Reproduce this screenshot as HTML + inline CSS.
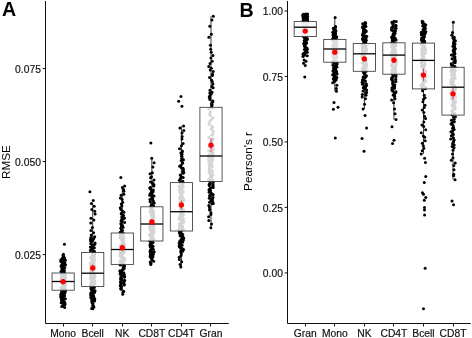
<!DOCTYPE html>
<html><head><meta charset="utf-8"><style>
html,body{margin:0;padding:0;background:#fff;}
svg{display:block;filter:blur(0.3px);}
.t{font-family:"Liberation Sans",sans-serif;font-size:10.3px;fill:#111;stroke:#111;stroke-width:0.18px;}
.at{font-family:"Liberation Sans",sans-serif;font-size:11.7px;fill:#000;}
.lab{font-family:"Liberation Sans",sans-serif;font-size:19.6px;font-weight:bold;fill:#000;}
.pts line{stroke:#222;stroke-width:0.9;}
.bx{fill:#fff;stroke:#3a3a3a;stroke-width:0.85;}
.md{stroke:#000;stroke-width:1.3;}
.eb{stroke:#d11;stroke-width:0.75;}
.mn{fill:#f00;}
</style></head><body>
<svg width="472" height="338" viewBox="0 0 472 338">
<rect width="472" height="338" fill="#fff"/>
<g fill="#000" class="pts">
<line x1="63.14" y1="254.29" x2="63.14" y2="273"/>
<line x1="63.14" y1="290.2" x2="63.14" y2="307.57"/>
<circle cx="64" cy="288.31" r="1.5"/>
<circle cx="64.77" cy="293.58" r="1.5"/>
<circle cx="64.26" cy="272.9" r="1.5"/>
<circle cx="64.54" cy="302.18" r="1.5"/>
<circle cx="63.63" cy="287.11" r="1.5"/>
<circle cx="65.06" cy="283.74" r="1.5"/>
<circle cx="64.12" cy="278.63" r="1.5"/>
<circle cx="62.92" cy="276.15" r="1.5"/>
<circle cx="62.97" cy="305.78" r="1.5"/>
<circle cx="62.89" cy="272.56" r="1.5"/>
<circle cx="65.34" cy="298.87" r="1.5"/>
<circle cx="64.81" cy="267.62" r="1.5"/>
<circle cx="60.81" cy="260.92" r="1.5"/>
<circle cx="64.37" cy="301.82" r="1.5"/>
<circle cx="61.09" cy="275.46" r="1.5"/>
<circle cx="62.97" cy="262.26" r="1.5"/>
<circle cx="65.11" cy="282.23" r="1.5"/>
<circle cx="61.98" cy="274.99" r="1.5"/>
<circle cx="60.94" cy="295.03" r="1.5"/>
<circle cx="63.63" cy="275.91" r="1.5"/>
<circle cx="64.6" cy="273.98" r="1.5"/>
<circle cx="60.86" cy="296.62" r="1.5"/>
<circle cx="63.66" cy="285.57" r="1.5"/>
<circle cx="61.37" cy="281.17" r="1.5"/>
<circle cx="63.82" cy="274.64" r="1.5"/>
<circle cx="65.3" cy="291.55" r="1.5"/>
<circle cx="64.67" cy="307.57" r="1.5"/>
<circle cx="62.06" cy="292.33" r="1.5"/>
<circle cx="63.89" cy="298.39" r="1.5"/>
<circle cx="61.6" cy="300.56" r="1.5"/>
<circle cx="62.6" cy="267.13" r="1.5"/>
<circle cx="62.32" cy="275.31" r="1.5"/>
<circle cx="64.12" cy="283.97" r="1.5"/>
<circle cx="64.25" cy="283.01" r="1.5"/>
<circle cx="63.55" cy="281.88" r="1.5"/>
<circle cx="62.4" cy="300.86" r="1.5"/>
<circle cx="65.49" cy="274.75" r="1.5"/>
<circle cx="63.56" cy="256.18" r="1.5"/>
<circle cx="64.99" cy="274.1" r="1.5"/>
<circle cx="65.3" cy="277.71" r="1.5"/>
<circle cx="60.97" cy="297.38" r="1.5"/>
<circle cx="62.98" cy="255.52" r="1.5"/>
<circle cx="62.58" cy="285.35" r="1.5"/>
<circle cx="63.64" cy="278.05" r="1.5"/>
<circle cx="61.9" cy="261.85" r="1.5"/>
<circle cx="64.63" cy="259.06" r="1.5"/>
<circle cx="61.84" cy="265.58" r="1.5"/>
<circle cx="61.03" cy="271.49" r="1.5"/>
<circle cx="61.48" cy="276.8" r="1.5"/>
<circle cx="62.65" cy="269.01" r="1.5"/>
<circle cx="63.47" cy="304.32" r="1.5"/>
<circle cx="65.37" cy="260.27" r="1.5"/>
<circle cx="64.44" cy="244.2" r="1.5"/>
<circle cx="62.34" cy="270.11" r="1.5"/>
<circle cx="61.7" cy="299.26" r="1.5"/>
<circle cx="63.11" cy="293.24" r="1.5"/>
<circle cx="60.89" cy="294.36" r="1.5"/>
<circle cx="62.92" cy="303.39" r="1.5"/>
<circle cx="62.26" cy="290.22" r="1.5"/>
<circle cx="62.04" cy="269.87" r="1.5"/>
<circle cx="64.77" cy="286.71" r="1.5"/>
<circle cx="61.24" cy="278.2" r="1.5"/>
<circle cx="61.39" cy="296.06" r="1.5"/>
<circle cx="63.53" cy="286.53" r="1.5"/>
<circle cx="63.91" cy="288.87" r="1.5"/>
<circle cx="61.73" cy="306.55" r="1.5"/>
<circle cx="63.82" cy="263.34" r="1.5"/>
<circle cx="63.06" cy="276.47" r="1.5"/>
<circle cx="62.61" cy="286.29" r="1.5"/>
<circle cx="62.2" cy="258.6" r="1.5"/>
<circle cx="60.91" cy="282.02" r="1.5"/>
<circle cx="63.2" cy="256.9" r="1.5"/>
<circle cx="65.02" cy="289.03" r="1.5"/>
<circle cx="63.43" cy="254.29" r="1.5"/>
<circle cx="64.2" cy="279.3" r="1.5"/>
<circle cx="64.79" cy="262.85" r="1.5"/>
<circle cx="63.48" cy="295.41" r="1.5"/>
<circle cx="64.9" cy="276.64" r="1.5"/>
<circle cx="61.75" cy="267.78" r="1.5"/>
<circle cx="62.81" cy="289.46" r="1.5"/>
<circle cx="65.02" cy="281.36" r="1.5"/>
<circle cx="61.59" cy="272.18" r="1.5"/>
<circle cx="65.16" cy="287.9" r="1.5"/>
<circle cx="62.03" cy="280.4" r="1.5"/>
<circle cx="65.52" cy="264.87" r="1.5"/>
<circle cx="62.76" cy="273.39" r="1.5"/>
<circle cx="63" cy="268.53" r="1.5"/>
<circle cx="65.36" cy="282.58" r="1.5"/>
<circle cx="63.54" cy="275.65" r="1.5"/>
<circle cx="65.13" cy="284.22" r="1.5"/>
<circle cx="62.04" cy="273.63" r="1.5"/>
<circle cx="61.92" cy="271.04" r="1.5"/>
<circle cx="61.56" cy="288.53" r="1.5"/>
<circle cx="61.84" cy="279.5" r="1.5"/>
<circle cx="64.82" cy="291.16" r="1.5"/>
<circle cx="65.11" cy="303.97" r="1.5"/>
<circle cx="65.54" cy="283.21" r="1.5"/>
<circle cx="62.91" cy="294.21" r="1.5"/>
<circle cx="64.97" cy="286.1" r="1.5"/>
<circle cx="63.83" cy="273.17" r="1.5"/>
<circle cx="62.51" cy="280.88" r="1.5"/>
<circle cx="64.21" cy="303.2" r="1.5"/>
<circle cx="61.88" cy="297.16" r="1.5"/>
<circle cx="63.76" cy="269.18" r="1.5"/>
<circle cx="64.34" cy="286.88" r="1.5"/>
<circle cx="61.03" cy="261.5" r="1.5"/>
<circle cx="62.59" cy="290.03" r="1.5"/>
<circle cx="63.9" cy="281.69" r="1.5"/>
<circle cx="62.15" cy="279.14" r="1.5"/>
<circle cx="65.26" cy="277.57" r="1.5"/>
<circle cx="64.54" cy="284.85" r="1.5"/>
<circle cx="64.03" cy="284.38" r="1.5"/>
<circle cx="61.6" cy="299.63" r="1.5"/>
<circle cx="61.55" cy="291.85" r="1.5"/>
<circle cx="63.81" cy="285.72" r="1.5"/>
<circle cx="64.83" cy="279.81" r="1.5"/>
<circle cx="64.14" cy="265.28" r="1.5"/>
<circle cx="65.36" cy="278.37" r="1.5"/>
<circle cx="62.08" cy="264.24" r="1.5"/>
<circle cx="62.73" cy="292.69" r="1.5"/>
<circle cx="63.13" cy="287.68" r="1.5"/>
<circle cx="63.01" cy="299.92" r="1.5"/>
<circle cx="62.63" cy="274.31" r="1.5"/>
<circle cx="61.72" cy="280.32" r="1.5"/>
<circle cx="64.57" cy="304.9" r="1.5"/>
<circle cx="61.16" cy="302.76" r="1.5"/>
<circle cx="60.8" cy="288.07" r="1.5"/>
<circle cx="65.13" cy="289.79" r="1.5"/>
<circle cx="63.92" cy="263.79" r="1.5"/>
<circle cx="61.65" cy="277.27" r="1.5"/>
<circle cx="60.94" cy="259.71" r="1.5"/>
<circle cx="64.54" cy="295.72" r="1.5"/>
<circle cx="61.03" cy="280.7" r="1.5"/>
<circle cx="63.94" cy="289.24" r="1.5"/>
<circle cx="64.92" cy="284.7" r="1.5"/>
<circle cx="63.13" cy="290.52" r="1.5"/>
<circle cx="63.7" cy="260.62" r="1.5"/>
<circle cx="61.08" cy="266.03" r="1.5"/>
<circle cx="62.89" cy="297.96" r="1.5"/>
<circle cx="63.49" cy="285.16" r="1.5"/>
<circle cx="64.55" cy="258.12" r="1.5"/>
<circle cx="62.09" cy="280.04" r="1.5"/>
<circle cx="63.36" cy="283.4" r="1.5"/>
<circle cx="63.24" cy="301.41" r="1.5"/>
<circle cx="63.8" cy="282.7" r="1.5"/>
<circle cx="62.66" cy="266.64" r="1.5"/>
<circle cx="61.85" cy="287.41" r="1.5"/>
<circle cx="64.7" cy="278.85" r="1.5"/>
<circle cx="64.67" cy="277.14" r="1.5"/>
<circle cx="64.38" cy="270.85" r="1.5"/>
<line x1="92.71" y1="203.48" x2="92.71" y2="252.5"/>
<line x1="92.71" y1="286.5" x2="92.71" y2="308.84"/>
<circle cx="91" cy="296.75" r="1.5"/>
<circle cx="93.56" cy="285.69" r="1.5"/>
<circle cx="94.36" cy="247.78" r="1.5"/>
<circle cx="92.41" cy="299.57" r="1.5"/>
<circle cx="90.92" cy="230.41" r="1.5"/>
<circle cx="93.35" cy="282.98" r="1.5"/>
<circle cx="90.8" cy="285.11" r="1.5"/>
<circle cx="92.38" cy="246.32" r="1.5"/>
<circle cx="90.89" cy="287.9" r="1.5"/>
<circle cx="92.33" cy="280.14" r="1.5"/>
<circle cx="92.24" cy="264" r="1.5"/>
<circle cx="94.53" cy="284.12" r="1.5"/>
<circle cx="92.06" cy="301.95" r="1.5"/>
<circle cx="91.62" cy="282.21" r="1.5"/>
<circle cx="93.02" cy="282.64" r="1.5"/>
<circle cx="92.6" cy="276.2" r="1.5"/>
<circle cx="90.77" cy="243.77" r="1.5"/>
<circle cx="90.78" cy="223.03" r="1.5"/>
<circle cx="93.52" cy="279.39" r="1.5"/>
<circle cx="94.16" cy="251.31" r="1.5"/>
<circle cx="91.55" cy="289.57" r="1.5"/>
<circle cx="94.74" cy="211.25" r="1.5"/>
<circle cx="90.68" cy="294.87" r="1.5"/>
<circle cx="90.56" cy="278.62" r="1.5"/>
<circle cx="90.42" cy="263.17" r="1.5"/>
<circle cx="93.96" cy="268.55" r="1.5"/>
<circle cx="95.06" cy="290.69" r="1.5"/>
<circle cx="93.18" cy="271.83" r="1.5"/>
<circle cx="93.64" cy="296.4" r="1.5"/>
<circle cx="90.6" cy="284.26" r="1.5"/>
<circle cx="90.39" cy="250.44" r="1.5"/>
<circle cx="93.04" cy="298.46" r="1.5"/>
<circle cx="92.79" cy="308.84" r="1.5"/>
<circle cx="94.81" cy="276.93" r="1.5"/>
<circle cx="93.02" cy="303.83" r="1.5"/>
<circle cx="92.02" cy="258.38" r="1.5"/>
<circle cx="91.22" cy="283.37" r="1.5"/>
<circle cx="93" cy="272.98" r="1.5"/>
<circle cx="93.95" cy="306.9" r="1.5"/>
<circle cx="93.31" cy="288.68" r="1.5"/>
<circle cx="93.98" cy="244.92" r="1.5"/>
<circle cx="94.34" cy="287.62" r="1.5"/>
<circle cx="90.52" cy="274.02" r="1.5"/>
<circle cx="90.38" cy="247.05" r="1.5"/>
<circle cx="94.88" cy="280.95" r="1.5"/>
<circle cx="91.1" cy="249.6" r="1.5"/>
<circle cx="93.93" cy="274.36" r="1.5"/>
<circle cx="92.75" cy="266.32" r="1.5"/>
<circle cx="90.65" cy="257.55" r="1.5"/>
<circle cx="93.34" cy="286.16" r="1.5"/>
<circle cx="93.95" cy="238.07" r="1.5"/>
<circle cx="92.61" cy="286.47" r="1.5"/>
<circle cx="94.69" cy="236.78" r="1.5"/>
<circle cx="94.51" cy="292.55" r="1.5"/>
<circle cx="94.73" cy="291.76" r="1.5"/>
<circle cx="91.28" cy="234.95" r="1.5"/>
<circle cx="93.8" cy="297.3" r="1.5"/>
<circle cx="91.48" cy="276.69" r="1.5"/>
<circle cx="91.96" cy="286.91" r="1.5"/>
<circle cx="93.05" cy="260.84" r="1.5"/>
<circle cx="90.68" cy="268.08" r="1.5"/>
<circle cx="92.49" cy="248.22" r="1.5"/>
<circle cx="93.75" cy="273.32" r="1.5"/>
<circle cx="94.2" cy="206.2" r="1.5"/>
<circle cx="92.95" cy="291.09" r="1.5"/>
<circle cx="91.68" cy="272.32" r="1.5"/>
<circle cx="95.07" cy="243.04" r="1.5"/>
<circle cx="92.78" cy="240.84" r="1.5"/>
<circle cx="94.18" cy="253.79" r="1.5"/>
<circle cx="92.5" cy="278.37" r="1.5"/>
<circle cx="94.69" cy="254.06" r="1.5"/>
<circle cx="94.66" cy="265.65" r="1.5"/>
<circle cx="93.8" cy="219.98" r="1.5"/>
<circle cx="94.44" cy="251.91" r="1.5"/>
<circle cx="92.73" cy="253.09" r="1.5"/>
<circle cx="91.77" cy="295.65" r="1.5"/>
<circle cx="93.97" cy="262.51" r="1.5"/>
<circle cx="94.85" cy="259.57" r="1.5"/>
<circle cx="94.82" cy="299.05" r="1.5"/>
<circle cx="92.26" cy="255.38" r="1.5"/>
<circle cx="90.88" cy="297.82" r="1.5"/>
<circle cx="93.31" cy="281.96" r="1.5"/>
<circle cx="92.86" cy="280.54" r="1.5"/>
<circle cx="91.77" cy="300.04" r="1.5"/>
<circle cx="92.26" cy="249.18" r="1.5"/>
<circle cx="90.49" cy="239.94" r="1.5"/>
<circle cx="90.86" cy="278.01" r="1.5"/>
<circle cx="93.39" cy="262.08" r="1.5"/>
<circle cx="90.87" cy="237.6" r="1.5"/>
<circle cx="91.43" cy="203.48" r="1.5"/>
<circle cx="92.35" cy="284.67" r="1.5"/>
<circle cx="92.56" cy="257.96" r="1.5"/>
<circle cx="92.58" cy="269.48" r="1.5"/>
<circle cx="91.83" cy="209.5" r="1.5"/>
<circle cx="94.66" cy="275.75" r="1.5"/>
<circle cx="90.59" cy="270.76" r="1.5"/>
<circle cx="90.78" cy="265.15" r="1.5"/>
<circle cx="93.6" cy="232.68" r="1.5"/>
<circle cx="93.31" cy="259.18" r="1.5"/>
<circle cx="93.25" cy="200.49" r="1.5"/>
<circle cx="92.08" cy="290.23" r="1.5"/>
<circle cx="92.23" cy="300.38" r="1.5"/>
<circle cx="91.46" cy="281.24" r="1.5"/>
<circle cx="92.18" cy="261.34" r="1.5"/>
<circle cx="91.66" cy="308.43" r="1.5"/>
<circle cx="90.55" cy="275.21" r="1.5"/>
<circle cx="90.91" cy="279.06" r="1.5"/>
<circle cx="92.34" cy="227.39" r="1.5"/>
<circle cx="91.57" cy="279.75" r="1.5"/>
<circle cx="90.71" cy="293.06" r="1.5"/>
<circle cx="92.69" cy="270.04" r="1.5"/>
<circle cx="91.75" cy="294.32" r="1.5"/>
<circle cx="93.37" cy="267.6" r="1.5"/>
<circle cx="90.65" cy="239.29" r="1.5"/>
<circle cx="94.23" cy="277.75" r="1.5"/>
<circle cx="94.54" cy="255.97" r="1.5"/>
<circle cx="95.01" cy="283.6" r="1.5"/>
<circle cx="92.08" cy="292.16" r="1.5"/>
<circle cx="92.26" cy="257.02" r="1.5"/>
<circle cx="91.93" cy="260.29" r="1.5"/>
<circle cx="91.25" cy="264.47" r="1.5"/>
<circle cx="92.64" cy="293.76" r="1.5"/>
<circle cx="93.99" cy="256.44" r="1.5"/>
<circle cx="94.78" cy="268.88" r="1.5"/>
<circle cx="91.34" cy="289.18" r="1.5"/>
<circle cx="94.6" cy="281.44" r="1.5"/>
<circle cx="93.49" cy="295.18" r="1.5"/>
<circle cx="93.86" cy="263.58" r="1.5"/>
<circle cx="93.04" cy="267.03" r="1.5"/>
<circle cx="92.91" cy="305.29" r="1.5"/>
<circle cx="94.88" cy="244.04" r="1.5"/>
<circle cx="92.25" cy="252.55" r="1.5"/>
<circle cx="90.95" cy="218.36" r="1.5"/>
<circle cx="92.05" cy="301.39" r="1.5"/>
<circle cx="94.85" cy="275.63" r="1.5"/>
<circle cx="92.55" cy="245.54" r="1.5"/>
<circle cx="92.33" cy="271.44" r="1.5"/>
<circle cx="91.02" cy="241.53" r="1.5"/>
<circle cx="92.56" cy="277.33" r="1.5"/>
<circle cx="91.29" cy="242.04" r="1.5"/>
<circle cx="92.17" cy="302.95" r="1.5"/>
<circle cx="94.62" cy="274.77" r="1.5"/>
<circle cx="89.91" cy="191.8" r="1.5"/>
<circle cx="93.6" cy="238.75" r="1.5"/>
<circle cx="90.66" cy="285.45" r="1.5"/>
<circle cx="95.1" cy="214.01" r="1.5"/>
<circle cx="90.38" cy="273.68" r="1.5"/>
<circle cx="93.01" cy="306.35" r="1.5"/>
<circle cx="94.05" cy="254.8" r="1.5"/>
<circle cx="94.61" cy="301.12" r="1.5"/>
<line x1="122.28" y1="185.94" x2="122.28" y2="233"/>
<line x1="122.28" y1="264.4" x2="122.28" y2="294.27"/>
<circle cx="124.31" cy="277.33" r="1.5"/>
<circle cx="123.01" cy="239.99" r="1.5"/>
<circle cx="121.38" cy="283.02" r="1.5"/>
<circle cx="121.5" cy="226.33" r="1.5"/>
<circle cx="122.99" cy="236.52" r="1.5"/>
<circle cx="123.31" cy="215.25" r="1.5"/>
<circle cx="120.87" cy="223.86" r="1.5"/>
<circle cx="121.03" cy="264.01" r="1.5"/>
<circle cx="120.22" cy="262.44" r="1.5"/>
<circle cx="124.39" cy="252.22" r="1.5"/>
<circle cx="121.34" cy="262.09" r="1.5"/>
<circle cx="122.1" cy="246.6" r="1.5"/>
<circle cx="123.82" cy="237.04" r="1.5"/>
<circle cx="121.74" cy="254.37" r="1.5"/>
<circle cx="120.88" cy="209.58" r="1.5"/>
<circle cx="122.75" cy="261.68" r="1.5"/>
<circle cx="123.49" cy="258.11" r="1.5"/>
<circle cx="120.58" cy="256.5" r="1.5"/>
<circle cx="124.2" cy="261.28" r="1.5"/>
<circle cx="121.69" cy="240.36" r="1.5"/>
<circle cx="122.8" cy="239.21" r="1.5"/>
<circle cx="122.41" cy="211.11" r="1.5"/>
<circle cx="121.81" cy="233.78" r="1.5"/>
<circle cx="122.72" cy="253.24" r="1.5"/>
<circle cx="121.59" cy="273.26" r="1.5"/>
<circle cx="121.93" cy="236.21" r="1.5"/>
<circle cx="121.15" cy="255.27" r="1.5"/>
<circle cx="120.06" cy="256.1" r="1.5"/>
<circle cx="119.96" cy="237.81" r="1.5"/>
<circle cx="120.1" cy="274.04" r="1.5"/>
<circle cx="120.88" cy="177.5" r="1.5"/>
<circle cx="121.78" cy="264.35" r="1.5"/>
<circle cx="122.08" cy="221.84" r="1.5"/>
<circle cx="121.88" cy="205.72" r="1.5"/>
<circle cx="120.25" cy="251.3" r="1.5"/>
<circle cx="121.18" cy="195.25" r="1.5"/>
<circle cx="120.84" cy="228.17" r="1.5"/>
<circle cx="124.22" cy="268.55" r="1.5"/>
<circle cx="122.77" cy="249.38" r="1.5"/>
<circle cx="124.57" cy="276.27" r="1.5"/>
<circle cx="124.52" cy="218.04" r="1.5"/>
<circle cx="123.23" cy="245.78" r="1.5"/>
<circle cx="121.28" cy="224.68" r="1.5"/>
<circle cx="122.76" cy="256.98" r="1.5"/>
<circle cx="120.18" cy="271.86" r="1.5"/>
<circle cx="121.34" cy="203.91" r="1.5"/>
<circle cx="122.73" cy="234.42" r="1.5"/>
<circle cx="121.37" cy="213.28" r="1.5"/>
<circle cx="122.36" cy="243.71" r="1.5"/>
<circle cx="124.52" cy="265.97" r="1.5"/>
<circle cx="121.47" cy="231.28" r="1.5"/>
<circle cx="120.97" cy="234.63" r="1.5"/>
<circle cx="120.34" cy="232.77" r="1.5"/>
<circle cx="124.11" cy="281.39" r="1.5"/>
<circle cx="121.58" cy="278.96" r="1.5"/>
<circle cx="120.87" cy="276.73" r="1.5"/>
<circle cx="120.39" cy="282.01" r="1.5"/>
<circle cx="121.47" cy="239.45" r="1.5"/>
<circle cx="123.67" cy="240.92" r="1.5"/>
<circle cx="121.35" cy="214.06" r="1.5"/>
<circle cx="120.14" cy="260.77" r="1.5"/>
<circle cx="121.48" cy="255.68" r="1.5"/>
<circle cx="123.19" cy="257.68" r="1.5"/>
<circle cx="122.13" cy="253.99" r="1.5"/>
<circle cx="124.19" cy="250.04" r="1.5"/>
<circle cx="123.58" cy="189.4" r="1.5"/>
<circle cx="120.26" cy="285.63" r="1.5"/>
<circle cx="119.88" cy="270.79" r="1.5"/>
<circle cx="122.03" cy="262.71" r="1.5"/>
<circle cx="123.68" cy="291.18" r="1.5"/>
<circle cx="120.35" cy="198" r="1.5"/>
<circle cx="124.64" cy="222.41" r="1.5"/>
<circle cx="121.96" cy="259.21" r="1.5"/>
<circle cx="123.75" cy="267.11" r="1.5"/>
<circle cx="123.22" cy="263.48" r="1.5"/>
<circle cx="120.53" cy="284.39" r="1.5"/>
<circle cx="122.47" cy="225.45" r="1.5"/>
<circle cx="124.22" cy="247.41" r="1.5"/>
<circle cx="122.27" cy="275.28" r="1.5"/>
<circle cx="120.83" cy="288.36" r="1.5"/>
<circle cx="122.4" cy="260.04" r="1.5"/>
<circle cx="121.46" cy="229.42" r="1.5"/>
<circle cx="123.8" cy="272.82" r="1.5"/>
<circle cx="123.56" cy="241.69" r="1.5"/>
<circle cx="123.08" cy="227.33" r="1.5"/>
<circle cx="122.82" cy="241.46" r="1.5"/>
<circle cx="122.71" cy="294.27" r="1.5"/>
<circle cx="123.88" cy="212.24" r="1.5"/>
<circle cx="123.02" cy="219.22" r="1.5"/>
<circle cx="122.64" cy="250.42" r="1.5"/>
<circle cx="124.19" cy="274.46" r="1.5"/>
<circle cx="124.56" cy="246.96" r="1.5"/>
<circle cx="123.99" cy="258.93" r="1.5"/>
<circle cx="120.72" cy="254.88" r="1.5"/>
<circle cx="121.36" cy="252.52" r="1.5"/>
<circle cx="120.71" cy="279.47" r="1.5"/>
<circle cx="123.28" cy="233.49" r="1.5"/>
<circle cx="124.34" cy="246.15" r="1.5"/>
<circle cx="123.47" cy="267.7" r="1.5"/>
<circle cx="123.89" cy="244.07" r="1.5"/>
<circle cx="119.96" cy="253.76" r="1.5"/>
<circle cx="120.48" cy="235.09" r="1.5"/>
<circle cx="123.06" cy="292.32" r="1.5"/>
<circle cx="123.42" cy="252.92" r="1.5"/>
<circle cx="124.23" cy="259.65" r="1.5"/>
<circle cx="121.15" cy="248.42" r="1.5"/>
<circle cx="122.7" cy="202.13" r="1.5"/>
<circle cx="121.32" cy="271.13" r="1.5"/>
<circle cx="122.13" cy="199.59" r="1.5"/>
<circle cx="120.83" cy="244.92" r="1.5"/>
<circle cx="124.65" cy="185.94" r="1.5"/>
<circle cx="123.67" cy="238.87" r="1.5"/>
<circle cx="123.84" cy="249.59" r="1.5"/>
<circle cx="124.66" cy="258.44" r="1.5"/>
<circle cx="123.31" cy="243.01" r="1.5"/>
<circle cx="120.75" cy="251.56" r="1.5"/>
<circle cx="123.83" cy="194.37" r="1.5"/>
<circle cx="122.46" cy="269.71" r="1.5"/>
<circle cx="124.38" cy="285.07" r="1.5"/>
<circle cx="124.04" cy="266.54" r="1.5"/>
<circle cx="124.22" cy="260.41" r="1.5"/>
<circle cx="121.36" cy="286.44" r="1.5"/>
<circle cx="123.82" cy="191.27" r="1.5"/>
<circle cx="121.01" cy="289.26" r="1.5"/>
<circle cx="121.86" cy="257.24" r="1.5"/>
<circle cx="120.32" cy="232.28" r="1.5"/>
<circle cx="120.82" cy="278.3" r="1.5"/>
<circle cx="124.42" cy="244.35" r="1.5"/>
<circle cx="123.24" cy="238.25" r="1.5"/>
<circle cx="124.66" cy="280.35" r="1.5"/>
<circle cx="120.23" cy="235.61" r="1.5"/>
<circle cx="121.69" cy="219.61" r="1.5"/>
<circle cx="121.79" cy="263.21" r="1.5"/>
<circle cx="121.06" cy="245.19" r="1.5"/>
<circle cx="124.64" cy="248.97" r="1.5"/>
<circle cx="122.45" cy="187.48" r="1.5"/>
<circle cx="120.32" cy="207.79" r="1.5"/>
<circle cx="124.06" cy="283.79" r="1.5"/>
<circle cx="123.18" cy="216.11" r="1.5"/>
<circle cx="122.92" cy="280.71" r="1.5"/>
<circle cx="120.21" cy="264.96" r="1.5"/>
<circle cx="121.77" cy="216.88" r="1.5"/>
<circle cx="123.69" cy="269.01" r="1.5"/>
<circle cx="121.02" cy="221" r="1.5"/>
<circle cx="122.58" cy="230.49" r="1.5"/>
<circle cx="122.57" cy="247.97" r="1.5"/>
<circle cx="122.51" cy="242.36" r="1.5"/>
<circle cx="121.47" cy="237.36" r="1.5"/>
<circle cx="120.77" cy="250.98" r="1.5"/>
<circle cx="122.28" cy="242.63" r="1.5"/>
<line x1="151.85" y1="158.22" x2="151.85" y2="206.8"/>
<line x1="151.85" y1="241" x2="151.85" y2="264.47"/>
<circle cx="152.89" cy="166.9" r="1.5"/>
<circle cx="152.39" cy="212.26" r="1.5"/>
<circle cx="151.72" cy="230.12" r="1.5"/>
<circle cx="151.11" cy="242.07" r="1.5"/>
<circle cx="149.54" cy="234.53" r="1.5"/>
<circle cx="150.81" cy="257.62" r="1.5"/>
<circle cx="150.11" cy="201.63" r="1.5"/>
<circle cx="150.44" cy="244.91" r="1.5"/>
<circle cx="152.06" cy="227.26" r="1.5"/>
<circle cx="150.94" cy="240.22" r="1.5"/>
<circle cx="153.17" cy="215.39" r="1.5"/>
<circle cx="150.48" cy="187.46" r="1.5"/>
<circle cx="153.14" cy="218.63" r="1.5"/>
<circle cx="151.91" cy="240.66" r="1.5"/>
<circle cx="151.43" cy="241.59" r="1.5"/>
<circle cx="153.02" cy="219.65" r="1.5"/>
<circle cx="150.13" cy="256.62" r="1.5"/>
<circle cx="153.31" cy="229.18" r="1.5"/>
<circle cx="153.71" cy="225.23" r="1.5"/>
<circle cx="154.16" cy="232.07" r="1.5"/>
<circle cx="152.99" cy="183.94" r="1.5"/>
<circle cx="152.53" cy="246.04" r="1.5"/>
<circle cx="151.94" cy="197.07" r="1.5"/>
<circle cx="150.88" cy="224.64" r="1.5"/>
<circle cx="151.68" cy="228.17" r="1.5"/>
<circle cx="151.01" cy="224.08" r="1.5"/>
<circle cx="150.33" cy="244.31" r="1.5"/>
<circle cx="151.72" cy="158.22" r="1.5"/>
<circle cx="153.38" cy="239.8" r="1.5"/>
<circle cx="151.46" cy="176.7" r="1.5"/>
<circle cx="150.9" cy="206.85" r="1.5"/>
<circle cx="150.18" cy="262.03" r="1.5"/>
<circle cx="149.81" cy="226.86" r="1.5"/>
<circle cx="152.77" cy="233.87" r="1.5"/>
<circle cx="150.67" cy="243.23" r="1.5"/>
<circle cx="151.15" cy="215.07" r="1.5"/>
<circle cx="151.26" cy="210" r="1.5"/>
<circle cx="150.74" cy="249.8" r="1.5"/>
<circle cx="152.58" cy="247.94" r="1.5"/>
<circle cx="153.4" cy="233.16" r="1.5"/>
<circle cx="153" cy="242.58" r="1.5"/>
<circle cx="153.82" cy="221.81" r="1.5"/>
<circle cx="150.12" cy="251.32" r="1.5"/>
<circle cx="153.83" cy="184.56" r="1.5"/>
<circle cx="152.92" cy="256.01" r="1.5"/>
<circle cx="150.2" cy="235.53" r="1.5"/>
<circle cx="151.56" cy="254.87" r="1.5"/>
<circle cx="150.85" cy="143.1" r="1.5"/>
<circle cx="152.57" cy="255.71" r="1.5"/>
<circle cx="151.39" cy="253.53" r="1.5"/>
<circle cx="152.36" cy="230.42" r="1.5"/>
<circle cx="151.72" cy="248.73" r="1.5"/>
<circle cx="152.83" cy="217.74" r="1.5"/>
<circle cx="153.1" cy="191.71" r="1.5"/>
<circle cx="152.76" cy="236.41" r="1.5"/>
<circle cx="149.95" cy="199.49" r="1.5"/>
<circle cx="153.29" cy="216.35" r="1.5"/>
<circle cx="151.75" cy="208.61" r="1.5"/>
<circle cx="149.68" cy="195.16" r="1.5"/>
<circle cx="152.9" cy="223.25" r="1.5"/>
<circle cx="153.31" cy="190.05" r="1.5"/>
<circle cx="150.96" cy="209.57" r="1.5"/>
<circle cx="151.22" cy="243.75" r="1.5"/>
<circle cx="149.94" cy="211.8" r="1.5"/>
<circle cx="153.52" cy="212.65" r="1.5"/>
<circle cx="151.93" cy="209.16" r="1.5"/>
<circle cx="152.95" cy="200.29" r="1.5"/>
<circle cx="151.37" cy="190.75" r="1.5"/>
<circle cx="150.75" cy="263.56" r="1.5"/>
<circle cx="153.86" cy="238.8" r="1.5"/>
<circle cx="149.65" cy="241.07" r="1.5"/>
<circle cx="152.62" cy="214.22" r="1.5"/>
<circle cx="151.3" cy="225.63" r="1.5"/>
<circle cx="153.25" cy="249.17" r="1.5"/>
<circle cx="153.89" cy="185.65" r="1.5"/>
<circle cx="150.45" cy="235.2" r="1.5"/>
<circle cx="151.95" cy="231.39" r="1.5"/>
<circle cx="150.66" cy="250.09" r="1.5"/>
<circle cx="152.87" cy="219.14" r="1.5"/>
<circle cx="153.66" cy="239.26" r="1.5"/>
<circle cx="151.61" cy="204.34" r="1.5"/>
<circle cx="150.93" cy="221.13" r="1.5"/>
<circle cx="150.72" cy="234.29" r="1.5"/>
<circle cx="150.38" cy="252.47" r="1.5"/>
<circle cx="150.69" cy="230.95" r="1.5"/>
<circle cx="151.91" cy="198.04" r="1.5"/>
<circle cx="152.04" cy="252.82" r="1.5"/>
<circle cx="153.92" cy="217.35" r="1.5"/>
<circle cx="153.31" cy="220.23" r="1.5"/>
<circle cx="150.5" cy="182.11" r="1.5"/>
<circle cx="150.45" cy="208.06" r="1.5"/>
<circle cx="150.07" cy="245.34" r="1.5"/>
<circle cx="150.22" cy="235.92" r="1.5"/>
<circle cx="151.61" cy="210.94" r="1.5"/>
<circle cx="151.28" cy="205.24" r="1.5"/>
<circle cx="152.26" cy="182.52" r="1.5"/>
<circle cx="154.24" cy="251.66" r="1.5"/>
<circle cx="149.69" cy="188.01" r="1.5"/>
<circle cx="153.78" cy="221.61" r="1.5"/>
<circle cx="150.32" cy="193.51" r="1.5"/>
<circle cx="152.39" cy="172.7" r="1.5"/>
<circle cx="152.05" cy="194.31" r="1.5"/>
<circle cx="150.54" cy="177.66" r="1.5"/>
<circle cx="152.08" cy="232.23" r="1.5"/>
<circle cx="149.8" cy="223.89" r="1.5"/>
<circle cx="153.21" cy="215.93" r="1.5"/>
<circle cx="150.22" cy="246.85" r="1.5"/>
<circle cx="153.48" cy="202.18" r="1.5"/>
<circle cx="151.8" cy="207.29" r="1.5"/>
<circle cx="154.01" cy="195.97" r="1.5"/>
<circle cx="151.31" cy="250.78" r="1.5"/>
<circle cx="154.24" cy="203" r="1.5"/>
<circle cx="153.45" cy="254.11" r="1.5"/>
<circle cx="151.19" cy="238.33" r="1.5"/>
<circle cx="154.09" cy="228.74" r="1.5"/>
<circle cx="153.76" cy="225.99" r="1.5"/>
<circle cx="150.77" cy="264.47" r="1.5"/>
<circle cx="152.57" cy="198.82" r="1.5"/>
<circle cx="153.99" cy="180.08" r="1.5"/>
<circle cx="153.01" cy="246.26" r="1.5"/>
<circle cx="151.77" cy="213.3" r="1.5"/>
<circle cx="153.52" cy="222.81" r="1.5"/>
<circle cx="151.21" cy="237.35" r="1.5"/>
<circle cx="153.46" cy="210.59" r="1.5"/>
<circle cx="153.55" cy="214.46" r="1.5"/>
<circle cx="150.02" cy="173.79" r="1.5"/>
<circle cx="153.89" cy="218.18" r="1.5"/>
<circle cx="151.84" cy="237.88" r="1.5"/>
<circle cx="151.57" cy="258.88" r="1.5"/>
<circle cx="153.67" cy="205.76" r="1.5"/>
<circle cx="152.12" cy="260.02" r="1.5"/>
<circle cx="150.76" cy="229.72" r="1.5"/>
<circle cx="151.93" cy="211.27" r="1.5"/>
<circle cx="150.27" cy="254.63" r="1.5"/>
<circle cx="153.68" cy="261.24" r="1.5"/>
<circle cx="152.85" cy="226.34" r="1.5"/>
<circle cx="154.12" cy="162.64" r="1.5"/>
<circle cx="150.64" cy="188.92" r="1.5"/>
<circle cx="151.92" cy="207.62" r="1.5"/>
<circle cx="153.58" cy="186.1" r="1.5"/>
<circle cx="150.69" cy="220.55" r="1.5"/>
<circle cx="152.69" cy="257.22" r="1.5"/>
<circle cx="153.13" cy="232.95" r="1.5"/>
<circle cx="153.11" cy="213.52" r="1.5"/>
<circle cx="152.43" cy="247.36" r="1.5"/>
<circle cx="151.81" cy="192.52" r="1.5"/>
<circle cx="151.82" cy="216.77" r="1.5"/>
<circle cx="149.76" cy="227.89" r="1.5"/>
<circle cx="150.76" cy="222.53" r="1.5"/>
<circle cx="150.86" cy="237.02" r="1.5"/>
<line x1="181.42" y1="126.05" x2="181.42" y2="182.6"/>
<line x1="181.42" y1="231" x2="181.42" y2="267.03"/>
<circle cx="181.59" cy="230.43" r="1.5"/>
<circle cx="179.72" cy="202.73" r="1.5"/>
<circle cx="179.82" cy="226.22" r="1.5"/>
<circle cx="180.82" cy="217.57" r="1.5"/>
<circle cx="182.85" cy="185.15" r="1.5"/>
<circle cx="180.81" cy="267.03" r="1.5"/>
<circle cx="179.4" cy="246.36" r="1.5"/>
<circle cx="178.62" cy="101.2" r="1.5"/>
<circle cx="180.36" cy="178.49" r="1.5"/>
<circle cx="180.78" cy="185.51" r="1.5"/>
<circle cx="182.56" cy="162.59" r="1.5"/>
<circle cx="183.56" cy="249.39" r="1.5"/>
<circle cx="180.51" cy="201.92" r="1.5"/>
<circle cx="181" cy="213.92" r="1.5"/>
<circle cx="182.8" cy="181.37" r="1.5"/>
<circle cx="183.33" cy="218.59" r="1.5"/>
<circle cx="181.98" cy="139.03" r="1.5"/>
<circle cx="182.07" cy="132.97" r="1.5"/>
<circle cx="183.52" cy="169.95" r="1.5"/>
<circle cx="183.49" cy="159.67" r="1.5"/>
<circle cx="179.1" cy="228.93" r="1.5"/>
<circle cx="181.2" cy="176.48" r="1.5"/>
<circle cx="183.06" cy="168.3" r="1.5"/>
<circle cx="180.68" cy="206.12" r="1.5"/>
<circle cx="181.48" cy="233.6" r="1.5"/>
<circle cx="179.63" cy="166.31" r="1.5"/>
<circle cx="182.55" cy="242.36" r="1.5"/>
<circle cx="181.31" cy="253.69" r="1.5"/>
<circle cx="180.97" cy="239.41" r="1.5"/>
<circle cx="182.75" cy="234.4" r="1.5"/>
<circle cx="182.57" cy="251.2" r="1.5"/>
<circle cx="179.2" cy="186.26" r="1.5"/>
<circle cx="180.47" cy="244.11" r="1.5"/>
<circle cx="182.27" cy="209.18" r="1.5"/>
<circle cx="181.03" cy="211.8" r="1.5"/>
<circle cx="180.15" cy="206.77" r="1.5"/>
<circle cx="179.57" cy="148.66" r="1.5"/>
<circle cx="180.07" cy="235.68" r="1.5"/>
<circle cx="183.68" cy="221.26" r="1.5"/>
<circle cx="180.79" cy="251.88" r="1.5"/>
<circle cx="182.24" cy="220.64" r="1.5"/>
<circle cx="181.5" cy="155.82" r="1.5"/>
<circle cx="180.4" cy="208.41" r="1.5"/>
<circle cx="179.89" cy="196.67" r="1.5"/>
<circle cx="179.59" cy="188.21" r="1.5"/>
<circle cx="180.65" cy="193.98" r="1.5"/>
<circle cx="181.09" cy="255.38" r="1.5"/>
<circle cx="182.85" cy="171.39" r="1.5"/>
<circle cx="181.25" cy="220.14" r="1.5"/>
<circle cx="181.02" cy="96.5" r="1.5"/>
<circle cx="181.43" cy="249.93" r="1.5"/>
<circle cx="180.01" cy="191.4" r="1.5"/>
<circle cx="183.13" cy="183.54" r="1.5"/>
<circle cx="183.56" cy="229.59" r="1.5"/>
<circle cx="181.17" cy="211.37" r="1.5"/>
<circle cx="181.7" cy="236.58" r="1.5"/>
<circle cx="180.92" cy="250.8" r="1.5"/>
<circle cx="179.24" cy="245.87" r="1.5"/>
<circle cx="179.71" cy="225.29" r="1.5"/>
<circle cx="183.23" cy="191.98" r="1.5"/>
<circle cx="179.62" cy="232.4" r="1.5"/>
<circle cx="179.77" cy="243" r="1.5"/>
<circle cx="180.95" cy="165.14" r="1.5"/>
<circle cx="180.09" cy="264.53" r="1.5"/>
<circle cx="181.87" cy="158.26" r="1.5"/>
<circle cx="183.54" cy="198.69" r="1.5"/>
<circle cx="183.8" cy="200.28" r="1.5"/>
<circle cx="181.09" cy="193.56" r="1.5"/>
<circle cx="182.23" cy="218.21" r="1.5"/>
<circle cx="180.74" cy="199.73" r="1.5"/>
<circle cx="179.13" cy="219.32" r="1.5"/>
<circle cx="181.38" cy="167.7" r="1.5"/>
<circle cx="182.33" cy="150.94" r="1.5"/>
<circle cx="182.58" cy="225.82" r="1.5"/>
<circle cx="179.56" cy="246.98" r="1.5"/>
<circle cx="181.06" cy="203.62" r="1.5"/>
<circle cx="183.57" cy="126.05" r="1.5"/>
<circle cx="183.5" cy="209.74" r="1.5"/>
<circle cx="180.43" cy="213.15" r="1.5"/>
<circle cx="183.1" cy="237.81" r="1.5"/>
<circle cx="181.04" cy="214.96" r="1.5"/>
<circle cx="179.26" cy="257.27" r="1.5"/>
<circle cx="179.5" cy="216.61" r="1.5"/>
<circle cx="181.98" cy="189.77" r="1.5"/>
<circle cx="181.27" cy="160.56" r="1.5"/>
<circle cx="182.59" cy="210.47" r="1.5"/>
<circle cx="181.01" cy="235.08" r="1.5"/>
<circle cx="182.96" cy="215.5" r="1.5"/>
<circle cx="180.24" cy="227.48" r="1.5"/>
<circle cx="183.17" cy="240.15" r="1.5"/>
<circle cx="180.99" cy="204.5" r="1.5"/>
<circle cx="181.45" cy="145.82" r="1.5"/>
<circle cx="181.65" cy="261.65" r="1.5"/>
<circle cx="179.64" cy="233.13" r="1.5"/>
<circle cx="179.14" cy="230.11" r="1.5"/>
<circle cx="179.32" cy="259.53" r="1.5"/>
<circle cx="182.56" cy="163.26" r="1.5"/>
<circle cx="183.17" cy="187.17" r="1.5"/>
<circle cx="182.11" cy="136.41" r="1.5"/>
<circle cx="180.89" cy="188.64" r="1.5"/>
<circle cx="183.11" cy="237.28" r="1.5"/>
<circle cx="180.23" cy="175.12" r="1.5"/>
<circle cx="182.04" cy="194.92" r="1.5"/>
<circle cx="182.22" cy="151.88" r="1.5"/>
<circle cx="181.91" cy="154.23" r="1.5"/>
<circle cx="181.27" cy="219.73" r="1.5"/>
<circle cx="181.14" cy="212.39" r="1.5"/>
<circle cx="181.66" cy="184.3" r="1.5"/>
<circle cx="183.68" cy="238.53" r="1.5"/>
<circle cx="181.92" cy="195.67" r="1.5"/>
<circle cx="182.11" cy="245.23" r="1.5"/>
<circle cx="180.47" cy="231.84" r="1.5"/>
<circle cx="179.45" cy="217.25" r="1.5"/>
<circle cx="179.64" cy="198.1" r="1.5"/>
<circle cx="182.01" cy="226.94" r="1.5"/>
<circle cx="182.53" cy="228.02" r="1.5"/>
<circle cx="180.18" cy="182.59" r="1.5"/>
<circle cx="182.25" cy="213.57" r="1.5"/>
<circle cx="179.38" cy="180.17" r="1.5"/>
<circle cx="183.2" cy="173.26" r="1.5"/>
<circle cx="180.87" cy="153.12" r="1.5"/>
<circle cx="179.56" cy="231.02" r="1.5"/>
<circle cx="183.13" cy="143.4" r="1.5"/>
<circle cx="179.37" cy="190.58" r="1.5"/>
<circle cx="180.07" cy="224.37" r="1.5"/>
<circle cx="180.03" cy="225" r="1.5"/>
<circle cx="180.39" cy="207.48" r="1.5"/>
<circle cx="183.18" cy="177.52" r="1.5"/>
<circle cx="179.16" cy="243.62" r="1.5"/>
<circle cx="179.97" cy="192.81" r="1.5"/>
<circle cx="181.92" cy="106.3" r="1.5"/>
<circle cx="182.03" cy="156.61" r="1.5"/>
<circle cx="182.35" cy="197.14" r="1.5"/>
<circle cx="183.32" cy="214.4" r="1.5"/>
<circle cx="179.34" cy="223.46" r="1.5"/>
<circle cx="182.39" cy="222.82" r="1.5"/>
<circle cx="181.45" cy="205.08" r="1.5"/>
<circle cx="183.79" cy="221.91" r="1.5"/>
<circle cx="179.9" cy="127.88" r="1.5"/>
<circle cx="183.79" cy="172.38" r="1.5"/>
<circle cx="179.6" cy="228.53" r="1.5"/>
<circle cx="180.95" cy="223.78" r="1.5"/>
<circle cx="183.77" cy="130.44" r="1.5"/>
<circle cx="179.76" cy="241.26" r="1.5"/>
<circle cx="182.16" cy="248.49" r="1.5"/>
<circle cx="180.6" cy="248.01" r="1.5"/>
<circle cx="182.56" cy="201.33" r="1.5"/>
<circle cx="181.01" cy="241.03" r="1.5"/>
<circle cx="183" cy="222.21" r="1.5"/>
<circle cx="181.86" cy="216.2" r="1.5"/>
<line x1="210.99" y1="16.35" x2="210.99" y2="107.3"/>
<line x1="210.99" y1="181.5" x2="210.99" y2="227.72"/>
<circle cx="209.84" cy="167.97" r="1.5"/>
<circle cx="212.72" cy="101.9" r="1.5"/>
<circle cx="210.99" cy="212.68" r="1.5"/>
<circle cx="209.92" cy="99.46" r="1.5"/>
<circle cx="213.15" cy="149.47" r="1.5"/>
<circle cx="208.84" cy="205.55" r="1.5"/>
<circle cx="213.16" cy="87.81" r="1.5"/>
<circle cx="208.79" cy="220.54" r="1.5"/>
<circle cx="209.58" cy="181.33" r="1.5"/>
<circle cx="208.85" cy="109" r="1.5"/>
<circle cx="212.71" cy="150.24" r="1.5"/>
<circle cx="209.22" cy="96.88" r="1.5"/>
<circle cx="210.42" cy="180.14" r="1.5"/>
<circle cx="212.83" cy="186.6" r="1.5"/>
<circle cx="213.03" cy="197.49" r="1.5"/>
<circle cx="209.44" cy="165.36" r="1.5"/>
<circle cx="212.92" cy="127.15" r="1.5"/>
<circle cx="211.53" cy="152.5" r="1.5"/>
<circle cx="210.33" cy="112.02" r="1.5"/>
<circle cx="210.82" cy="214.38" r="1.5"/>
<circle cx="212.26" cy="81.47" r="1.5"/>
<circle cx="212.23" cy="158.42" r="1.5"/>
<circle cx="209.79" cy="93.07" r="1.5"/>
<circle cx="211.9" cy="86.59" r="1.5"/>
<circle cx="211.12" cy="141.82" r="1.5"/>
<circle cx="210.8" cy="200.94" r="1.5"/>
<circle cx="208.73" cy="137.38" r="1.5"/>
<circle cx="208.66" cy="216.73" r="1.5"/>
<circle cx="211.43" cy="151.59" r="1.5"/>
<circle cx="211.17" cy="94.12" r="1.5"/>
<circle cx="212.38" cy="175.89" r="1.5"/>
<circle cx="212.46" cy="74.37" r="1.5"/>
<circle cx="210.99" cy="142.72" r="1.5"/>
<circle cx="213.14" cy="194.85" r="1.5"/>
<circle cx="208.9" cy="37.24" r="1.5"/>
<circle cx="212.08" cy="92.32" r="1.5"/>
<circle cx="211.09" cy="140.56" r="1.5"/>
<circle cx="212.91" cy="84.12" r="1.5"/>
<circle cx="208.6" cy="159.21" r="1.5"/>
<circle cx="211.94" cy="19.92" r="1.5"/>
<circle cx="209.85" cy="26.31" r="1.5"/>
<circle cx="212.78" cy="133.63" r="1.5"/>
<circle cx="213.34" cy="131.32" r="1.5"/>
<circle cx="213.2" cy="182.55" r="1.5"/>
<circle cx="209.27" cy="184.25" r="1.5"/>
<circle cx="209.77" cy="172.79" r="1.5"/>
<circle cx="208.71" cy="156.56" r="1.5"/>
<circle cx="212.36" cy="75.44" r="1.5"/>
<circle cx="209.82" cy="168.59" r="1.5"/>
<circle cx="211.75" cy="126.35" r="1.5"/>
<circle cx="213.16" cy="71.51" r="1.5"/>
<circle cx="212.39" cy="171.38" r="1.5"/>
<circle cx="212.96" cy="55.55" r="1.5"/>
<circle cx="211.56" cy="223.94" r="1.5"/>
<circle cx="209.81" cy="165.69" r="1.5"/>
<circle cx="212.08" cy="170.54" r="1.5"/>
<circle cx="210" cy="95.61" r="1.5"/>
<circle cx="213.31" cy="138.84" r="1.5"/>
<circle cx="209.9" cy="188.78" r="1.5"/>
<circle cx="212.57" cy="156.8" r="1.5"/>
<circle cx="209.51" cy="202.31" r="1.5"/>
<circle cx="212.25" cy="203.72" r="1.5"/>
<circle cx="210.37" cy="174.25" r="1.5"/>
<circle cx="211.32" cy="198.9" r="1.5"/>
<circle cx="210.23" cy="183.42" r="1.5"/>
<circle cx="211.09" cy="157.79" r="1.5"/>
<circle cx="208.97" cy="172" r="1.5"/>
<circle cx="212.31" cy="107.9" r="1.5"/>
<circle cx="211.52" cy="80.05" r="1.5"/>
<circle cx="213.13" cy="184.96" r="1.5"/>
<circle cx="213.26" cy="146.03" r="1.5"/>
<circle cx="210.93" cy="57.88" r="1.5"/>
<circle cx="209.48" cy="169.44" r="1.5"/>
<circle cx="212.65" cy="201.56" r="1.5"/>
<circle cx="209.12" cy="124.32" r="1.5"/>
<circle cx="212.7" cy="139.7" r="1.5"/>
<circle cx="211.32" cy="68.28" r="1.5"/>
<circle cx="210.2" cy="147.49" r="1.5"/>
<circle cx="209.99" cy="90.31" r="1.5"/>
<circle cx="212.79" cy="100.93" r="1.5"/>
<circle cx="210.4" cy="45.36" r="1.5"/>
<circle cx="211.44" cy="178" r="1.5"/>
<circle cx="212.76" cy="155.38" r="1.5"/>
<circle cx="209.9" cy="98.36" r="1.5"/>
<circle cx="212.98" cy="180.61" r="1.5"/>
<circle cx="212.35" cy="166.53" r="1.5"/>
<circle cx="212.21" cy="61.25" r="1.5"/>
<circle cx="210.67" cy="49.17" r="1.5"/>
<circle cx="211.12" cy="140.96" r="1.5"/>
<circle cx="208.69" cy="151.04" r="1.5"/>
<circle cx="212.11" cy="104.79" r="1.5"/>
<circle cx="211.35" cy="34.25" r="1.5"/>
<circle cx="209.55" cy="77.61" r="1.5"/>
<circle cx="210.2" cy="161.06" r="1.5"/>
<circle cx="210.58" cy="173.21" r="1.5"/>
<circle cx="210.38" cy="188.14" r="1.5"/>
<circle cx="210.07" cy="191.24" r="1.5"/>
<circle cx="210.22" cy="176.87" r="1.5"/>
<circle cx="209.66" cy="195.42" r="1.5"/>
<circle cx="210.06" cy="63.44" r="1.5"/>
<circle cx="211.28" cy="52.22" r="1.5"/>
<circle cx="209.65" cy="210.11" r="1.5"/>
<circle cx="212.25" cy="194.04" r="1.5"/>
<circle cx="209.36" cy="198.17" r="1.5"/>
<circle cx="212.4" cy="199.71" r="1.5"/>
<circle cx="210.88" cy="178.89" r="1.5"/>
<circle cx="211.52" cy="103.79" r="1.5"/>
<circle cx="211.79" cy="135.33" r="1.5"/>
<circle cx="209.61" cy="209.28" r="1.5"/>
<circle cx="209.85" cy="162.59" r="1.5"/>
<circle cx="208.94" cy="190.09" r="1.5"/>
<circle cx="210.26" cy="190.48" r="1.5"/>
<circle cx="211.31" cy="129.24" r="1.5"/>
<circle cx="208.66" cy="161.71" r="1.5"/>
<circle cx="209.42" cy="206.94" r="1.5"/>
<circle cx="212.96" cy="174.63" r="1.5"/>
<circle cx="210.04" cy="169.81" r="1.5"/>
<circle cx="209.24" cy="146.83" r="1.5"/>
<circle cx="210.19" cy="70.07" r="1.5"/>
<circle cx="213.07" cy="153.26" r="1.5"/>
<circle cx="210.93" cy="144.96" r="1.5"/>
<circle cx="209.71" cy="121.41" r="1.5"/>
<circle cx="213.3" cy="16.35" r="1.5"/>
<circle cx="209.72" cy="164.48" r="1.5"/>
<circle cx="211.19" cy="193.18" r="1.5"/>
<circle cx="208.76" cy="66.49" r="1.5"/>
<circle cx="210.86" cy="227.72" r="1.5"/>
<circle cx="211.08" cy="153.77" r="1.5"/>
<circle cx="211.83" cy="163.74" r="1.5"/>
<circle cx="209.71" cy="113.85" r="1.5"/>
<circle cx="210.45" cy="175.61" r="1.5"/>
<circle cx="210.92" cy="144.35" r="1.5"/>
<circle cx="212.4" cy="159.53" r="1.5"/>
<circle cx="211.31" cy="119.59" r="1.5"/>
<circle cx="208.74" cy="155.06" r="1.5"/>
<circle cx="210.08" cy="196.25" r="1.5"/>
<circle cx="213.15" cy="187.47" r="1.5"/>
<circle cx="210.37" cy="115.42" r="1.5"/>
<circle cx="211.98" cy="143.43" r="1.5"/>
<circle cx="209.18" cy="192.15" r="1.5"/>
<circle cx="211.12" cy="163.18" r="1.5"/>
<circle cx="213.1" cy="148.51" r="1.5"/>
<circle cx="209.24" cy="185.49" r="1.5"/>
<circle cx="213.29" cy="203.43" r="1.5"/>
<circle cx="208.66" cy="179.61" r="1.5"/>
<circle cx="210.41" cy="177.56" r="1.5"/>
<circle cx="211.76" cy="106.06" r="1.5"/>
<circle cx="209.74" cy="167.14" r="1.5"/>
<circle cx="213.12" cy="117.86" r="1.5"/>
<circle cx="212.59" cy="160.65" r="1.5"/>
<line x1="305.24" y1="13.9" x2="305.24" y2="21.6"/>
<line x1="305.24" y1="36.5" x2="305.24" y2="56.55"/>
<circle cx="304.85" cy="19.53" r="1.5"/>
<circle cx="307.26" cy="31.26" r="1.5"/>
<circle cx="307.32" cy="20.57" r="1.5"/>
<circle cx="305.08" cy="14.52" r="1.5"/>
<circle cx="302.95" cy="25" r="1.5"/>
<circle cx="302.91" cy="56.55" r="1.5"/>
<circle cx="303.87" cy="18.07" r="1.5"/>
<circle cx="304.47" cy="17.43" r="1.5"/>
<circle cx="305.49" cy="52.92" r="1.5"/>
<circle cx="306.08" cy="32.12" r="1.5"/>
<circle cx="304.74" cy="77.1" r="1.5"/>
<circle cx="307.24" cy="39.44" r="1.5"/>
<circle cx="304.66" cy="27.5" r="1.5"/>
<circle cx="302.94" cy="32.77" r="1.5"/>
<circle cx="304.88" cy="27.3" r="1.5"/>
<circle cx="305.48" cy="25.5" r="1.5"/>
<circle cx="303.36" cy="15.92" r="1.5"/>
<circle cx="307.41" cy="31.02" r="1.5"/>
<circle cx="306.49" cy="50.39" r="1.5"/>
<circle cx="304.77" cy="22.95" r="1.5"/>
<circle cx="306.85" cy="23.94" r="1.5"/>
<circle cx="304.23" cy="36.57" r="1.5"/>
<circle cx="303.72" cy="20.16" r="1.5"/>
<circle cx="304.91" cy="32.99" r="1.5"/>
<circle cx="305.82" cy="25.22" r="1.5"/>
<circle cx="302.94" cy="35.95" r="1.5"/>
<circle cx="306.47" cy="30.71" r="1.5"/>
<circle cx="303.16" cy="28.84" r="1.5"/>
<circle cx="305.12" cy="18.68" r="1.5"/>
<circle cx="307.27" cy="19.15" r="1.5"/>
<circle cx="307.38" cy="19.31" r="1.5"/>
<circle cx="303.3" cy="16.34" r="1.5"/>
<circle cx="304.92" cy="17.21" r="1.5"/>
<circle cx="304.27" cy="27.88" r="1.5"/>
<circle cx="304.41" cy="15.09" r="1.5"/>
<circle cx="306.66" cy="20.73" r="1.5"/>
<circle cx="307.52" cy="21.12" r="1.5"/>
<circle cx="305.51" cy="32.53" r="1.5"/>
<circle cx="304.45" cy="23.85" r="1.5"/>
<circle cx="306.95" cy="17.91" r="1.5"/>
<circle cx="305.63" cy="36.18" r="1.5"/>
<circle cx="306.42" cy="28.15" r="1.5"/>
<circle cx="307.18" cy="38.53" r="1.5"/>
<circle cx="303" cy="24.41" r="1.5"/>
<circle cx="304.07" cy="29.55" r="1.5"/>
<circle cx="305.11" cy="44.8" r="1.5"/>
<circle cx="307.54" cy="13.9" r="1.5"/>
<circle cx="303.87" cy="28.49" r="1.5"/>
<circle cx="302.96" cy="35.78" r="1.5"/>
<circle cx="307.61" cy="22.09" r="1.5"/>
<circle cx="303.83" cy="35.28" r="1.5"/>
<circle cx="306.63" cy="18.33" r="1.5"/>
<circle cx="307.28" cy="23.73" r="1.5"/>
<circle cx="303.11" cy="20.91" r="1.5"/>
<circle cx="304.03" cy="55.17" r="1.5"/>
<circle cx="305.4" cy="50.97" r="1.5"/>
<circle cx="303.08" cy="16.64" r="1.5"/>
<circle cx="302.96" cy="29.99" r="1.5"/>
<circle cx="306.98" cy="22.47" r="1.5"/>
<circle cx="307.31" cy="16.99" r="1.5"/>
<circle cx="304.51" cy="45.36" r="1.5"/>
<circle cx="307.35" cy="49.17" r="1.5"/>
<circle cx="303.57" cy="53.29" r="1.5"/>
<circle cx="305.62" cy="15.57" r="1.5"/>
<circle cx="303.22" cy="18.54" r="1.5"/>
<circle cx="302.96" cy="15.3" r="1.5"/>
<circle cx="307.01" cy="24.31" r="1.5"/>
<circle cx="304.12" cy="24.54" r="1.5"/>
<circle cx="305.65" cy="26.78" r="1.5"/>
<circle cx="304.01" cy="23.36" r="1.5"/>
<circle cx="304.25" cy="17.71" r="1.5"/>
<circle cx="305.8" cy="14.07" r="1.5"/>
<circle cx="306.62" cy="42.98" r="1.5"/>
<circle cx="304.79" cy="29.84" r="1.5"/>
<circle cx="303.68" cy="43.59" r="1.5"/>
<circle cx="304.01" cy="22.8" r="1.5"/>
<circle cx="303.54" cy="63.3" r="1.5"/>
<circle cx="306.2" cy="39.17" r="1.5"/>
<circle cx="304.36" cy="46.06" r="1.5"/>
<circle cx="305.79" cy="21.89" r="1.5"/>
<circle cx="305.3" cy="34.28" r="1.5"/>
<circle cx="306.68" cy="25.78" r="1.5"/>
<circle cx="305.61" cy="24.16" r="1.5"/>
<circle cx="307.62" cy="26.39" r="1.5"/>
<circle cx="306.75" cy="22.32" r="1.5"/>
<circle cx="305.68" cy="43.91" r="1.5"/>
<circle cx="306.61" cy="20.42" r="1.5"/>
<circle cx="305.36" cy="16.85" r="1.5"/>
<circle cx="305.06" cy="15.75" r="1.5"/>
<circle cx="304.39" cy="49.51" r="1.5"/>
<circle cx="304.59" cy="29.28" r="1.5"/>
<circle cx="306.87" cy="27.11" r="1.5"/>
<circle cx="307.57" cy="19.89" r="1.5"/>
<circle cx="303.86" cy="26.52" r="1.5"/>
<circle cx="306.09" cy="25.65" r="1.5"/>
<circle cx="305.94" cy="42.09" r="1.5"/>
<circle cx="307.6" cy="16.15" r="1.5"/>
<circle cx="303.09" cy="54.2" r="1.5"/>
<circle cx="303.07" cy="32.21" r="1.5"/>
<circle cx="304.75" cy="34.52" r="1.5"/>
<circle cx="305.28" cy="30.6" r="1.5"/>
<circle cx="304.92" cy="24.85" r="1.5"/>
<circle cx="305.64" cy="30.34" r="1.5"/>
<circle cx="305.72" cy="26.66" r="1.5"/>
<circle cx="306.4" cy="23.08" r="1.5"/>
<circle cx="303.9" cy="54.88" r="1.5"/>
<circle cx="307.09" cy="25.98" r="1.5"/>
<circle cx="304.19" cy="40.4" r="1.5"/>
<circle cx="306.02" cy="24.71" r="1.5"/>
<circle cx="307.2" cy="52.2" r="1.5"/>
<circle cx="306.54" cy="14.91" r="1.5"/>
<circle cx="303.87" cy="33.75" r="1.5"/>
<circle cx="306.26" cy="29.14" r="1.5"/>
<circle cx="302.97" cy="14.76" r="1.5"/>
<circle cx="307.57" cy="23.57" r="1.5"/>
<circle cx="302.85" cy="21.75" r="1.5"/>
<circle cx="307.18" cy="21.56" r="1.5"/>
<circle cx="303.57" cy="14.26" r="1.5"/>
<circle cx="303.77" cy="21.46" r="1.5"/>
<circle cx="307.27" cy="55.79" r="1.5"/>
<circle cx="307.21" cy="35.43" r="1.5"/>
<circle cx="304.38" cy="37.7" r="1.5"/>
<circle cx="303.54" cy="34.06" r="1.5"/>
<circle cx="303.64" cy="33.53" r="1.5"/>
<circle cx="304.04" cy="60" r="1.5"/>
<circle cx="305.54" cy="27" r="1.5"/>
<circle cx="306.92" cy="47.9" r="1.5"/>
<circle cx="306.64" cy="51.56" r="1.5"/>
<circle cx="304.56" cy="40.91" r="1.5"/>
<circle cx="303.92" cy="26.04" r="1.5"/>
<circle cx="305.2" cy="47.01" r="1.5"/>
<circle cx="305.21" cy="31.59" r="1.5"/>
<circle cx="302.88" cy="33.2" r="1.5"/>
<circle cx="306.62" cy="34.75" r="1.5"/>
<circle cx="306.36" cy="25.29" r="1.5"/>
<circle cx="305.14" cy="46.73" r="1.5"/>
<circle cx="305.83" cy="37.05" r="1.5"/>
<circle cx="305.24" cy="65.4" r="1.5"/>
<circle cx="305.81" cy="23.27" r="1.5"/>
<circle cx="306.52" cy="48.57" r="1.5"/>
<circle cx="305.73" cy="41.56" r="1.5"/>
<circle cx="305.86" cy="18.88" r="1.5"/>
<circle cx="306.6" cy="22.2" r="1.5"/>
<circle cx="303.25" cy="19.66" r="1.5"/>
<circle cx="306.04" cy="61.2" r="1.5"/>
<circle cx="305.74" cy="26.2" r="1.5"/>
<circle cx="303.25" cy="22.64" r="1.5"/>
<circle cx="306.84" cy="35.03" r="1.5"/>
<circle cx="305.23" cy="28.3" r="1.5"/>
<circle cx="307.19" cy="31.79" r="1.5"/>
<line x1="334.8" y1="17.4" x2="334.8" y2="39.4"/>
<line x1="334.8" y1="62.2" x2="334.8" y2="91.24"/>
<circle cx="333.02" cy="35.07" r="1.5"/>
<circle cx="334.71" cy="60.53" r="1.5"/>
<circle cx="335.17" cy="44.55" r="1.5"/>
<circle cx="334.21" cy="39.64" r="1.5"/>
<circle cx="333.66" cy="47.86" r="1.5"/>
<circle cx="334.15" cy="61.46" r="1.5"/>
<circle cx="336.18" cy="40.92" r="1.5"/>
<circle cx="335.13" cy="67.45" r="1.5"/>
<circle cx="335.59" cy="30.29" r="1.5"/>
<circle cx="333.18" cy="71.27" r="1.5"/>
<circle cx="332.75" cy="62.31" r="1.5"/>
<circle cx="336.89" cy="40.73" r="1.5"/>
<circle cx="334.56" cy="38.45" r="1.5"/>
<circle cx="334.39" cy="43.94" r="1.5"/>
<circle cx="335.3" cy="138" r="1.5"/>
<circle cx="333.87" cy="40.08" r="1.5"/>
<circle cx="335.23" cy="27.56" r="1.5"/>
<circle cx="334.99" cy="58.92" r="1.5"/>
<circle cx="334.2" cy="35.56" r="1.5"/>
<circle cx="333.36" cy="28.24" r="1.5"/>
<circle cx="333.25" cy="78.89" r="1.5"/>
<circle cx="335.07" cy="43.71" r="1.5"/>
<circle cx="335.51" cy="68.64" r="1.5"/>
<circle cx="332.53" cy="49.18" r="1.5"/>
<circle cx="337" cy="61.75" r="1.5"/>
<circle cx="334.41" cy="62.91" r="1.5"/>
<circle cx="334.65" cy="48.9" r="1.5"/>
<circle cx="336.15" cy="51.34" r="1.5"/>
<circle cx="337.01" cy="63.42" r="1.5"/>
<circle cx="335.92" cy="42.91" r="1.5"/>
<circle cx="335.31" cy="48.08" r="1.5"/>
<circle cx="335.76" cy="57.17" r="1.5"/>
<circle cx="336.61" cy="71.92" r="1.5"/>
<circle cx="334.17" cy="54.14" r="1.5"/>
<circle cx="335.82" cy="37.26" r="1.5"/>
<circle cx="336.49" cy="56.59" r="1.5"/>
<circle cx="337.11" cy="73.93" r="1.5"/>
<circle cx="332.74" cy="39.11" r="1.5"/>
<circle cx="336.81" cy="49.51" r="1.5"/>
<circle cx="333" cy="52.46" r="1.5"/>
<circle cx="333.6" cy="28.76" r="1.5"/>
<circle cx="333.72" cy="36.36" r="1.5"/>
<circle cx="335.44" cy="30.55" r="1.5"/>
<circle cx="335.51" cy="26.52" r="1.5"/>
<circle cx="334.58" cy="55.1" r="1.5"/>
<circle cx="336.86" cy="64.27" r="1.5"/>
<circle cx="335" cy="34.59" r="1.5"/>
<circle cx="336.45" cy="53.03" r="1.5"/>
<circle cx="333.55" cy="50.95" r="1.5"/>
<circle cx="335.32" cy="32.59" r="1.5"/>
<circle cx="335.54" cy="27.12" r="1.5"/>
<circle cx="332.83" cy="45.8" r="1.5"/>
<circle cx="334.07" cy="56.84" r="1.5"/>
<circle cx="334.12" cy="53.79" r="1.5"/>
<circle cx="335.56" cy="33.7" r="1.5"/>
<circle cx="333.52" cy="44.99" r="1.5"/>
<circle cx="336.7" cy="36.77" r="1.5"/>
<circle cx="335.11" cy="72.87" r="1.5"/>
<circle cx="335.41" cy="43.27" r="1.5"/>
<circle cx="333.68" cy="46.8" r="1.5"/>
<circle cx="333.64" cy="45.56" r="1.5"/>
<circle cx="334.53" cy="59.34" r="1.5"/>
<circle cx="335.59" cy="41.41" r="1.5"/>
<circle cx="333.63" cy="54.85" r="1.5"/>
<circle cx="335.72" cy="31.18" r="1.5"/>
<circle cx="334.51" cy="60.02" r="1.5"/>
<circle cx="334.96" cy="66.25" r="1.5"/>
<circle cx="335.89" cy="70.31" r="1.5"/>
<circle cx="336.86" cy="85.17" r="1.5"/>
<circle cx="335.3" cy="47.59" r="1.5"/>
<circle cx="334.37" cy="31.64" r="1.5"/>
<circle cx="334.59" cy="81.18" r="1.5"/>
<circle cx="335.4" cy="34.12" r="1.5"/>
<circle cx="334.26" cy="32.93" r="1.5"/>
<circle cx="333.82" cy="42.43" r="1.5"/>
<circle cx="332.86" cy="39.96" r="1.5"/>
<circle cx="336.37" cy="78.16" r="1.5"/>
<circle cx="332.96" cy="32.28" r="1.5"/>
<circle cx="338" cy="107.3" r="1.5"/>
<circle cx="332.53" cy="40.51" r="1.5"/>
<circle cx="335.69" cy="52.72" r="1.5"/>
<circle cx="335.51" cy="55.75" r="1.5"/>
<circle cx="334.22" cy="29.6" r="1.5"/>
<circle cx="332.88" cy="56.21" r="1.5"/>
<circle cx="337.18" cy="42.68" r="1.5"/>
<circle cx="336.2" cy="39.46" r="1.5"/>
<circle cx="334.72" cy="34.38" r="1.5"/>
<circle cx="336.11" cy="79.98" r="1.5"/>
<circle cx="332.75" cy="38.8" r="1.5"/>
<circle cx="332.95" cy="48.4" r="1.5"/>
<circle cx="336.91" cy="55.59" r="1.5"/>
<circle cx="336.32" cy="88.47" r="1.5"/>
<circle cx="336.24" cy="41.64" r="1.5"/>
<circle cx="333.5" cy="38.24" r="1.5"/>
<circle cx="335.51" cy="57.94" r="1.5"/>
<circle cx="335.48" cy="33.3" r="1.5"/>
<circle cx="334.24" cy="69.37" r="1.5"/>
<circle cx="334.43" cy="59.68" r="1.5"/>
<circle cx="333.5" cy="67.95" r="1.5"/>
<circle cx="333.21" cy="70.55" r="1.5"/>
<circle cx="333.99" cy="76.94" r="1.5"/>
<circle cx="334.04" cy="43.56" r="1.5"/>
<circle cx="335.23" cy="44.3" r="1.5"/>
<circle cx="334.44" cy="58.3" r="1.5"/>
<circle cx="333.55" cy="58.71" r="1.5"/>
<circle cx="336.5" cy="64.92" r="1.5"/>
<circle cx="336.8" cy="57.71" r="1.5"/>
<circle cx="333.68" cy="50.63" r="1.5"/>
<circle cx="336.54" cy="47.11" r="1.5"/>
<circle cx="333.25" cy="49.95" r="1.5"/>
<circle cx="336.98" cy="46.52" r="1.5"/>
<circle cx="333.06" cy="54.56" r="1.5"/>
<circle cx="332.98" cy="32.05" r="1.5"/>
<circle cx="336.81" cy="77.33" r="1.5"/>
<circle cx="336.25" cy="38.03" r="1.5"/>
<circle cx="332.96" cy="65.31" r="1.5"/>
<circle cx="334.67" cy="50.22" r="1.5"/>
<circle cx="335.5" cy="36.99" r="1.5"/>
<circle cx="333.48" cy="35.25" r="1.5"/>
<circle cx="333.93" cy="31.53" r="1.5"/>
<circle cx="335.53" cy="42.15" r="1.5"/>
<circle cx="334.08" cy="36.24" r="1.5"/>
<circle cx="336.83" cy="42.03" r="1.5"/>
<circle cx="333.99" cy="73.26" r="1.5"/>
<circle cx="335.54" cy="52.09" r="1.5"/>
<circle cx="334.98" cy="61.09" r="1.5"/>
<circle cx="334" cy="102.5" r="1.5"/>
<circle cx="333.87" cy="79.35" r="1.5"/>
<circle cx="333.4" cy="109.2" r="1.5"/>
<circle cx="336.45" cy="91.24" r="1.5"/>
<circle cx="333.69" cy="45.29" r="1.5"/>
<circle cx="334.14" cy="35.79" r="1.5"/>
<circle cx="332.63" cy="74.64" r="1.5"/>
<circle cx="334.04" cy="37.56" r="1.5"/>
<circle cx="333.37" cy="33.53" r="1.5"/>
<circle cx="336.97" cy="67.03" r="1.5"/>
<circle cx="336.66" cy="44.84" r="1.5"/>
<circle cx="333.15" cy="60.89" r="1.5"/>
<circle cx="333.33" cy="53.41" r="1.5"/>
<circle cx="335.54" cy="46.11" r="1.5"/>
<circle cx="333.29" cy="47.25" r="1.5"/>
<circle cx="335.1" cy="17.4" r="1.5"/>
<circle cx="335.37" cy="51.65" r="1.5"/>
<circle cx="335.05" cy="75.86" r="1.5"/>
<circle cx="332.69" cy="82.64" r="1.5"/>
<circle cx="333.79" cy="41.26" r="1.5"/>
<circle cx="335.17" cy="46.3" r="1.5"/>
<circle cx="335.41" cy="48.65" r="1.5"/>
<circle cx="334.41" cy="80.89" r="1.5"/>
<circle cx="334.43" cy="75.49" r="1.5"/>
<line x1="364.36" y1="22.45" x2="364.36" y2="43.6"/>
<line x1="364.36" y1="71.3" x2="364.36" y2="109"/>
<circle cx="364.13" cy="48.46" r="1.5"/>
<circle cx="364.06" cy="151.2" r="1.5"/>
<circle cx="363.73" cy="43.59" r="1.5"/>
<circle cx="365.36" cy="68.36" r="1.5"/>
<circle cx="365.47" cy="52.8" r="1.5"/>
<circle cx="362.96" cy="39.39" r="1.5"/>
<circle cx="362.11" cy="44.93" r="1.5"/>
<circle cx="363.28" cy="68.12" r="1.5"/>
<circle cx="365.07" cy="41.86" r="1.5"/>
<circle cx="362.75" cy="39.62" r="1.5"/>
<circle cx="362.16" cy="96.9" r="1.5"/>
<circle cx="366.27" cy="51.16" r="1.5"/>
<circle cx="363.94" cy="24.35" r="1.5"/>
<circle cx="364.75" cy="35.95" r="1.5"/>
<circle cx="366.52" cy="92.15" r="1.5"/>
<circle cx="364.81" cy="52.39" r="1.5"/>
<circle cx="362.92" cy="50.22" r="1.5"/>
<circle cx="365.06" cy="115.4" r="1.5"/>
<circle cx="363.63" cy="78.77" r="1.5"/>
<circle cx="363.12" cy="82.68" r="1.5"/>
<circle cx="364.17" cy="61.56" r="1.5"/>
<circle cx="366.69" cy="36.29" r="1.5"/>
<circle cx="365.81" cy="30.6" r="1.5"/>
<circle cx="365.49" cy="48.28" r="1.5"/>
<circle cx="363.3" cy="29.39" r="1.5"/>
<circle cx="363.13" cy="76.91" r="1.5"/>
<circle cx="363.79" cy="46.66" r="1.5"/>
<circle cx="362.73" cy="27.46" r="1.5"/>
<circle cx="364.08" cy="50.63" r="1.5"/>
<circle cx="363.24" cy="31.94" r="1.5"/>
<circle cx="362.46" cy="46.8" r="1.5"/>
<circle cx="366.28" cy="40.21" r="1.5"/>
<circle cx="363.39" cy="56.3" r="1.5"/>
<circle cx="363.94" cy="33.26" r="1.5"/>
<circle cx="363.05" cy="53.09" r="1.5"/>
<circle cx="365.22" cy="51.01" r="1.5"/>
<circle cx="363.97" cy="51.99" r="1.5"/>
<circle cx="362.05" cy="57.29" r="1.5"/>
<circle cx="363.19" cy="34.28" r="1.5"/>
<circle cx="364.58" cy="30.82" r="1.5"/>
<circle cx="363.21" cy="49.1" r="1.5"/>
<circle cx="363.65" cy="41.27" r="1.5"/>
<circle cx="365.97" cy="60.66" r="1.5"/>
<circle cx="362.06" cy="138.6" r="1.5"/>
<circle cx="362.16" cy="82.2" r="1.5"/>
<circle cx="364.26" cy="69.75" r="1.5"/>
<circle cx="363.69" cy="57.89" r="1.5"/>
<circle cx="365.04" cy="77.86" r="1.5"/>
<circle cx="362.25" cy="69.04" r="1.5"/>
<circle cx="365.13" cy="88.6" r="1.5"/>
<circle cx="364.23" cy="41.02" r="1.5"/>
<circle cx="363.04" cy="90.89" r="1.5"/>
<circle cx="364.69" cy="25.75" r="1.5"/>
<circle cx="364.4" cy="51.56" r="1.5"/>
<circle cx="362.78" cy="49.94" r="1.5"/>
<circle cx="364.58" cy="53.65" r="1.5"/>
<circle cx="364.79" cy="46.25" r="1.5"/>
<circle cx="362.93" cy="33.76" r="1.5"/>
<circle cx="364.15" cy="43.03" r="1.5"/>
<circle cx="362.31" cy="94.39" r="1.5"/>
<circle cx="364.22" cy="48.74" r="1.5"/>
<circle cx="363.33" cy="51.67" r="1.5"/>
<circle cx="362.2" cy="53.31" r="1.5"/>
<circle cx="366.26" cy="83.82" r="1.5"/>
<circle cx="363.26" cy="87.77" r="1.5"/>
<circle cx="364.24" cy="64.15" r="1.5"/>
<circle cx="362.2" cy="55.82" r="1.5"/>
<circle cx="364.22" cy="86.24" r="1.5"/>
<circle cx="364.91" cy="63.45" r="1.5"/>
<circle cx="363.46" cy="79.82" r="1.5"/>
<circle cx="365.63" cy="47.04" r="1.5"/>
<circle cx="365.02" cy="89.31" r="1.5"/>
<circle cx="365.92" cy="37.45" r="1.5"/>
<circle cx="365.38" cy="25.01" r="1.5"/>
<circle cx="363.78" cy="37.16" r="1.5"/>
<circle cx="366.51" cy="64.73" r="1.5"/>
<circle cx="364.74" cy="61.98" r="1.5"/>
<circle cx="363.81" cy="44.6" r="1.5"/>
<circle cx="365.64" cy="87.09" r="1.5"/>
<circle cx="362.65" cy="26.81" r="1.5"/>
<circle cx="365.57" cy="65.58" r="1.5"/>
<circle cx="363.45" cy="46.02" r="1.5"/>
<circle cx="365.99" cy="92.95" r="1.5"/>
<circle cx="362.47" cy="34.91" r="1.5"/>
<circle cx="366.43" cy="75.67" r="1.5"/>
<circle cx="362.46" cy="70.31" r="1.5"/>
<circle cx="364.49" cy="69.58" r="1.5"/>
<circle cx="362.04" cy="54.43" r="1.5"/>
<circle cx="365.69" cy="22.99" r="1.5"/>
<circle cx="362.45" cy="84.34" r="1.5"/>
<circle cx="365.46" cy="98.64" r="1.5"/>
<circle cx="366.2" cy="66.57" r="1.5"/>
<circle cx="366.62" cy="85.57" r="1.5"/>
<circle cx="364.1" cy="71.18" r="1.5"/>
<circle cx="366.56" cy="49.6" r="1.5"/>
<circle cx="366.62" cy="90.03" r="1.5"/>
<circle cx="364.66" cy="65.12" r="1.5"/>
<circle cx="362.3" cy="52.64" r="1.5"/>
<circle cx="363.61" cy="59.63" r="1.5"/>
<circle cx="365.92" cy="26.47" r="1.5"/>
<circle cx="364.48" cy="58.21" r="1.5"/>
<circle cx="365.98" cy="45.59" r="1.5"/>
<circle cx="363.44" cy="28.45" r="1.5"/>
<circle cx="363.06" cy="109" r="1.5"/>
<circle cx="364" cy="45.15" r="1.5"/>
<circle cx="364.19" cy="28.8" r="1.5"/>
<circle cx="363.48" cy="45.69" r="1.5"/>
<circle cx="366.56" cy="128" r="1.5"/>
<circle cx="363.77" cy="55.43" r="1.5"/>
<circle cx="363.52" cy="44.18" r="1.5"/>
<circle cx="365.89" cy="62.44" r="1.5"/>
<circle cx="362.9" cy="35.25" r="1.5"/>
<circle cx="363.57" cy="55.02" r="1.5"/>
<circle cx="365.44" cy="61.16" r="1.5"/>
<circle cx="364.56" cy="104.2" r="1.5"/>
<circle cx="362.44" cy="58.54" r="1.5"/>
<circle cx="362.71" cy="23.75" r="1.5"/>
<circle cx="365.9" cy="93.73" r="1.5"/>
<circle cx="364.63" cy="59.26" r="1.5"/>
<circle cx="365.97" cy="95.31" r="1.5"/>
<circle cx="364.82" cy="74.56" r="1.5"/>
<circle cx="364.67" cy="54" r="1.5"/>
<circle cx="364.37" cy="60.18" r="1.5"/>
<circle cx="366.17" cy="67.64" r="1.5"/>
<circle cx="363.47" cy="47.89" r="1.5"/>
<circle cx="362.39" cy="80.08" r="1.5"/>
<circle cx="365.88" cy="38.77" r="1.5"/>
<circle cx="365.68" cy="42.59" r="1.5"/>
<circle cx="366.37" cy="49.37" r="1.5"/>
<circle cx="362.54" cy="50.46" r="1.5"/>
<circle cx="365.49" cy="66.16" r="1.5"/>
<circle cx="365.06" cy="22.45" r="1.5"/>
<circle cx="362.65" cy="44.43" r="1.5"/>
<circle cx="362.81" cy="38.31" r="1.5"/>
<circle cx="365.18" cy="71.99" r="1.5"/>
<circle cx="364.23" cy="73.72" r="1.5"/>
<circle cx="365.25" cy="43.86" r="1.5"/>
<circle cx="362.36" cy="47.74" r="1.5"/>
<circle cx="365.93" cy="76.47" r="1.5"/>
<circle cx="363.03" cy="66.94" r="1.5"/>
<circle cx="366.32" cy="63.87" r="1.5"/>
<circle cx="364.79" cy="32.76" r="1.5"/>
<circle cx="366.2" cy="31.4" r="1.5"/>
<circle cx="362.21" cy="63.02" r="1.5"/>
<circle cx="366.44" cy="70.96" r="1.5"/>
<circle cx="362.1" cy="56.71" r="1.5"/>
<circle cx="365.43" cy="47.36" r="1.5"/>
<circle cx="363.56" cy="72.72" r="1.5"/>
<circle cx="363.55" cy="30.02" r="1.5"/>
<circle cx="365.46" cy="81.01" r="1.5"/>
<line x1="393.92" y1="21.19" x2="393.92" y2="42.8"/>
<line x1="393.92" y1="74.2" x2="393.92" y2="119.6"/>
<circle cx="395.78" cy="26.18" r="1.5"/>
<circle cx="395.89" cy="81.46" r="1.5"/>
<circle cx="395.86" cy="25.3" r="1.5"/>
<circle cx="394.67" cy="48.07" r="1.5"/>
<circle cx="391.84" cy="46.5" r="1.5"/>
<circle cx="392.26" cy="45.04" r="1.5"/>
<circle cx="394.43" cy="54.68" r="1.5"/>
<circle cx="393.66" cy="31.16" r="1.5"/>
<circle cx="392.73" cy="26.85" r="1.5"/>
<circle cx="394.79" cy="58.54" r="1.5"/>
<circle cx="392.97" cy="23.66" r="1.5"/>
<circle cx="393.39" cy="53.06" r="1.5"/>
<circle cx="393.6" cy="47.65" r="1.5"/>
<circle cx="394.62" cy="86.86" r="1.5"/>
<circle cx="393.63" cy="67.56" r="1.5"/>
<circle cx="391.52" cy="29.51" r="1.5"/>
<circle cx="391.82" cy="64.05" r="1.5"/>
<circle cx="395.61" cy="67.15" r="1.5"/>
<circle cx="392.76" cy="75.05" r="1.5"/>
<circle cx="394.88" cy="31.53" r="1.5"/>
<circle cx="394.08" cy="48.28" r="1.5"/>
<circle cx="392.69" cy="49.43" r="1.5"/>
<circle cx="395.68" cy="71.18" r="1.5"/>
<circle cx="391.92" cy="54.19" r="1.5"/>
<circle cx="394.25" cy="95.73" r="1.5"/>
<circle cx="394.89" cy="44.01" r="1.5"/>
<circle cx="391.75" cy="73.23" r="1.5"/>
<circle cx="392.09" cy="69.46" r="1.5"/>
<circle cx="393.21" cy="47.15" r="1.5"/>
<circle cx="391.83" cy="65.57" r="1.5"/>
<circle cx="392.33" cy="53.41" r="1.5"/>
<circle cx="395.36" cy="56.42" r="1.5"/>
<circle cx="392.22" cy="65.03" r="1.5"/>
<circle cx="392.86" cy="82.34" r="1.5"/>
<circle cx="395.12" cy="37.99" r="1.5"/>
<circle cx="393.52" cy="52.03" r="1.5"/>
<circle cx="394.62" cy="72.7" r="1.5"/>
<circle cx="391.81" cy="30.16" r="1.5"/>
<circle cx="392.64" cy="40.5" r="1.5"/>
<circle cx="393.07" cy="95.05" r="1.5"/>
<circle cx="394.31" cy="86.45" r="1.5"/>
<circle cx="394.81" cy="44.38" r="1.5"/>
<circle cx="391.54" cy="53.89" r="1.5"/>
<circle cx="395.02" cy="113.7" r="1.5"/>
<circle cx="396.22" cy="21.55" r="1.5"/>
<circle cx="393.23" cy="47.3" r="1.5"/>
<circle cx="394.77" cy="32.99" r="1.5"/>
<circle cx="395.98" cy="76.55" r="1.5"/>
<circle cx="395.18" cy="60.8" r="1.5"/>
<circle cx="396.1" cy="40.08" r="1.5"/>
<circle cx="392.91" cy="83.06" r="1.5"/>
<circle cx="391.59" cy="79.61" r="1.5"/>
<circle cx="393.17" cy="60.35" r="1.5"/>
<circle cx="392.28" cy="71.67" r="1.5"/>
<circle cx="392" cy="89.26" r="1.5"/>
<circle cx="392.3" cy="38.75" r="1.5"/>
<circle cx="395.44" cy="66.53" r="1.5"/>
<circle cx="392.76" cy="23.17" r="1.5"/>
<circle cx="391.65" cy="57.9" r="1.5"/>
<circle cx="391.9" cy="66.04" r="1.5"/>
<circle cx="395.52" cy="92.78" r="1.5"/>
<circle cx="393.59" cy="73.58" r="1.5"/>
<circle cx="395.99" cy="91.72" r="1.5"/>
<circle cx="395.75" cy="63.09" r="1.5"/>
<circle cx="394.11" cy="45.85" r="1.5"/>
<circle cx="392.47" cy="50.94" r="1.5"/>
<circle cx="394.45" cy="88.34" r="1.5"/>
<circle cx="394.34" cy="38.55" r="1.5"/>
<circle cx="395.71" cy="43.81" r="1.5"/>
<circle cx="391.85" cy="22.32" r="1.5"/>
<circle cx="395.44" cy="30.75" r="1.5"/>
<circle cx="396.07" cy="28.23" r="1.5"/>
<circle cx="392.78" cy="49.1" r="1.5"/>
<circle cx="391.72" cy="46.69" r="1.5"/>
<circle cx="394.98" cy="33.23" r="1.5"/>
<circle cx="394.52" cy="109" r="1.5"/>
<circle cx="392.1" cy="52.21" r="1.5"/>
<circle cx="395.52" cy="59.58" r="1.5"/>
<circle cx="393.72" cy="68.98" r="1.5"/>
<circle cx="393.56" cy="69.98" r="1.5"/>
<circle cx="392.06" cy="87.69" r="1.5"/>
<circle cx="394.04" cy="35.01" r="1.5"/>
<circle cx="396.17" cy="62.62" r="1.5"/>
<circle cx="392.87" cy="51.32" r="1.5"/>
<circle cx="393.64" cy="48.6" r="1.5"/>
<circle cx="393.29" cy="45.98" r="1.5"/>
<circle cx="391.66" cy="43.36" r="1.5"/>
<circle cx="393.28" cy="42.21" r="1.5"/>
<circle cx="393.28" cy="36.81" r="1.5"/>
<circle cx="396.04" cy="53.68" r="1.5"/>
<circle cx="392.22" cy="41.03" r="1.5"/>
<circle cx="392.76" cy="83.95" r="1.5"/>
<circle cx="394.07" cy="43.2" r="1.5"/>
<circle cx="394.2" cy="75.55" r="1.5"/>
<circle cx="394.96" cy="28.8" r="1.5"/>
<circle cx="396.09" cy="64.59" r="1.5"/>
<circle cx="394.77" cy="84.81" r="1.5"/>
<circle cx="394.41" cy="93.67" r="1.5"/>
<circle cx="395.55" cy="72.08" r="1.5"/>
<circle cx="393.59" cy="61.9" r="1.5"/>
<circle cx="391.65" cy="77.93" r="1.5"/>
<circle cx="394.18" cy="49.9" r="1.5"/>
<circle cx="391.95" cy="51.67" r="1.5"/>
<circle cx="393.02" cy="42.9" r="1.5"/>
<circle cx="394.04" cy="32.09" r="1.5"/>
<circle cx="392.17" cy="57" r="1.5"/>
<circle cx="393.6" cy="102.66" r="1.5"/>
<circle cx="394.85" cy="50.77" r="1.5"/>
<circle cx="395.3" cy="67.93" r="1.5"/>
<circle cx="394.5" cy="94.44" r="1.5"/>
<circle cx="392.83" cy="91.14" r="1.5"/>
<circle cx="394.37" cy="55.73" r="1.5"/>
<circle cx="393.18" cy="85.62" r="1.5"/>
<circle cx="393.86" cy="59.03" r="1.5"/>
<circle cx="392.52" cy="143.4" r="1.5"/>
<circle cx="395.7" cy="79.17" r="1.5"/>
<circle cx="392.82" cy="63.66" r="1.5"/>
<circle cx="395.59" cy="52.74" r="1.5"/>
<circle cx="394.29" cy="34.59" r="1.5"/>
<circle cx="391.88" cy="27.86" r="1.5"/>
<circle cx="395.38" cy="60.06" r="1.5"/>
<circle cx="392.89" cy="35.51" r="1.5"/>
<circle cx="393.97" cy="21.19" r="1.5"/>
<circle cx="393.19" cy="36.3" r="1.5"/>
<circle cx="395.49" cy="70.51" r="1.5"/>
<circle cx="393.89" cy="41.51" r="1.5"/>
<circle cx="396.25" cy="61.46" r="1.5"/>
<circle cx="395.32" cy="49.66" r="1.5"/>
<circle cx="393.1" cy="34.01" r="1.5"/>
<circle cx="395.91" cy="45.53" r="1.5"/>
<circle cx="392.7" cy="80.64" r="1.5"/>
<circle cx="392.5" cy="77.24" r="1.5"/>
<circle cx="392.02" cy="126.8" r="1.5"/>
<circle cx="393.47" cy="68.62" r="1.5"/>
<circle cx="393.05" cy="24.56" r="1.5"/>
<circle cx="394.02" cy="140.3" r="1.5"/>
<circle cx="391.52" cy="37.14" r="1.5"/>
<circle cx="392.21" cy="57.32" r="1.5"/>
<circle cx="396.04" cy="74.39" r="1.5"/>
<circle cx="394.45" cy="39.3" r="1.5"/>
<circle cx="392.07" cy="54.93" r="1.5"/>
<circle cx="394.95" cy="50.35" r="1.5"/>
<circle cx="396.02" cy="119.6" r="1.5"/>
<circle cx="391.65" cy="100.08" r="1.5"/>
<circle cx="395.01" cy="44.84" r="1.5"/>
<circle cx="391.95" cy="27.4" r="1.5"/>
<circle cx="394.97" cy="98.78" r="1.5"/>
<circle cx="392.2" cy="90.35" r="1.5"/>
<circle cx="392.17" cy="55.41" r="1.5"/>
<circle cx="394.6" cy="96.46" r="1.5"/>
<line x1="423.48" y1="21.2" x2="423.48" y2="43.1"/>
<line x1="423.48" y1="88.9" x2="423.48" y2="154"/>
<circle cx="424.31" cy="37.08" r="1.5"/>
<circle cx="425.18" cy="268.3" r="1.5"/>
<circle cx="425.43" cy="60.02" r="1.5"/>
<circle cx="425.78" cy="176.5" r="1.5"/>
<circle cx="424.79" cy="53.68" r="1.5"/>
<circle cx="423.48" cy="308.8" r="1.5"/>
<circle cx="424.68" cy="42.1" r="1.5"/>
<circle cx="425.57" cy="118.62" r="1.5"/>
<circle cx="424.99" cy="50.46" r="1.5"/>
<circle cx="425.82" cy="31.65" r="1.5"/>
<circle cx="424.73" cy="137.22" r="1.5"/>
<circle cx="423.12" cy="56.54" r="1.5"/>
<circle cx="423.6" cy="66.16" r="1.5"/>
<circle cx="424.48" cy="210" r="1.5"/>
<circle cx="423.08" cy="83.76" r="1.5"/>
<circle cx="423.44" cy="38.88" r="1.5"/>
<circle cx="421.82" cy="58.86" r="1.5"/>
<circle cx="423.22" cy="82.03" r="1.5"/>
<circle cx="422.37" cy="22.93" r="1.5"/>
<circle cx="424.94" cy="24.53" r="1.5"/>
<circle cx="422.4" cy="32.94" r="1.5"/>
<circle cx="421.33" cy="32.14" r="1.5"/>
<circle cx="422.51" cy="90.8" r="1.5"/>
<circle cx="421.87" cy="34.19" r="1.5"/>
<circle cx="424.5" cy="116.22" r="1.5"/>
<circle cx="422.31" cy="109.94" r="1.5"/>
<circle cx="423.59" cy="30.28" r="1.5"/>
<circle cx="425.33" cy="77.6" r="1.5"/>
<circle cx="421.67" cy="51.83" r="1.5"/>
<circle cx="422.89" cy="101.71" r="1.5"/>
<circle cx="422.29" cy="150.83" r="1.5"/>
<circle cx="423.44" cy="51.49" r="1.5"/>
<circle cx="423.05" cy="69.98" r="1.5"/>
<circle cx="421.93" cy="43.56" r="1.5"/>
<circle cx="423.36" cy="85.74" r="1.5"/>
<circle cx="422.68" cy="42.76" r="1.5"/>
<circle cx="421.98" cy="40.44" r="1.5"/>
<circle cx="421.6" cy="37.96" r="1.5"/>
<circle cx="422.79" cy="53.26" r="1.5"/>
<circle cx="425.1" cy="47.78" r="1.5"/>
<circle cx="425" cy="105.19" r="1.5"/>
<circle cx="423.48" cy="194.3" r="1.5"/>
<circle cx="424.6" cy="61.28" r="1.5"/>
<circle cx="425.77" cy="24.99" r="1.5"/>
<circle cx="423.38" cy="58.47" r="1.5"/>
<circle cx="423.14" cy="56.05" r="1.5"/>
<circle cx="424.28" cy="200.2" r="1.5"/>
<circle cx="422.58" cy="82.9" r="1.5"/>
<circle cx="422.27" cy="48.27" r="1.5"/>
<circle cx="424.27" cy="107.51" r="1.5"/>
<circle cx="423.22" cy="45.95" r="1.5"/>
<circle cx="424.31" cy="95.17" r="1.5"/>
<circle cx="424.19" cy="36.08" r="1.5"/>
<circle cx="422.51" cy="57.78" r="1.5"/>
<circle cx="423.14" cy="78.99" r="1.5"/>
<circle cx="422.3" cy="143.31" r="1.5"/>
<circle cx="425.08" cy="97.66" r="1.5"/>
<circle cx="423.39" cy="54.01" r="1.5"/>
<circle cx="424.64" cy="31.45" r="1.5"/>
<circle cx="424.92" cy="65.34" r="1.5"/>
<circle cx="423.91" cy="36.55" r="1.5"/>
<circle cx="422.27" cy="55.52" r="1.5"/>
<circle cx="421.94" cy="124.91" r="1.5"/>
<circle cx="423.63" cy="70.84" r="1.5"/>
<circle cx="423.8" cy="121.91" r="1.5"/>
<circle cx="422.42" cy="88.29" r="1.5"/>
<circle cx="423.86" cy="148.36" r="1.5"/>
<circle cx="423.78" cy="69.21" r="1.5"/>
<circle cx="423.44" cy="57.27" r="1.5"/>
<circle cx="424.5" cy="26.5" r="1.5"/>
<circle cx="425.18" cy="140.74" r="1.5"/>
<circle cx="421.21" cy="154" r="1.5"/>
<circle cx="424.34" cy="46.22" r="1.5"/>
<circle cx="422.34" cy="45.31" r="1.5"/>
<circle cx="425.41" cy="162.38" r="1.5"/>
<circle cx="423.72" cy="57.03" r="1.5"/>
<circle cx="421.73" cy="86.86" r="1.5"/>
<circle cx="421.52" cy="40.05" r="1.5"/>
<circle cx="425.78" cy="197.6" r="1.5"/>
<circle cx="424.58" cy="215" r="1.5"/>
<circle cx="423.57" cy="84.37" r="1.5"/>
<circle cx="425.13" cy="33.85" r="1.5"/>
<circle cx="421.4" cy="63.2" r="1.5"/>
<circle cx="422.39" cy="39.61" r="1.5"/>
<circle cx="425.66" cy="129.82" r="1.5"/>
<circle cx="421.92" cy="33.17" r="1.5"/>
<circle cx="425.25" cy="28.75" r="1.5"/>
<circle cx="422.2" cy="64.72" r="1.5"/>
<circle cx="422.68" cy="25.9" r="1.5"/>
<circle cx="422.27" cy="74.55" r="1.5"/>
<circle cx="423.1" cy="22.09" r="1.5"/>
<circle cx="423.5" cy="99.15" r="1.5"/>
<circle cx="425.21" cy="28" r="1.5"/>
<circle cx="423.32" cy="135.91" r="1.5"/>
<circle cx="422.19" cy="21.2" r="1.5"/>
<circle cx="423.86" cy="112.5" r="1.5"/>
<circle cx="424.81" cy="63.68" r="1.5"/>
<circle cx="423.72" cy="126.52" r="1.5"/>
<circle cx="421.3" cy="132.69" r="1.5"/>
<circle cx="421.64" cy="59.29" r="1.5"/>
<circle cx="423.66" cy="47.23" r="1.5"/>
<circle cx="423.35" cy="23.69" r="1.5"/>
<circle cx="424.36" cy="27.34" r="1.5"/>
<circle cx="422.6" cy="52.85" r="1.5"/>
<circle cx="422.84" cy="61.03" r="1.5"/>
<circle cx="421.33" cy="34.71" r="1.5"/>
<circle cx="425.6" cy="49.95" r="1.5"/>
<circle cx="425.5" cy="52.38" r="1.5"/>
<circle cx="421.57" cy="48.73" r="1.5"/>
<circle cx="424.38" cy="41.46" r="1.5"/>
<circle cx="421.13" cy="85.03" r="1.5"/>
<circle cx="422.29" cy="55.17" r="1.5"/>
<circle cx="424.78" cy="72.35" r="1.5"/>
<circle cx="423.77" cy="30.79" r="1.5"/>
<circle cx="425.3" cy="88.64" r="1.5"/>
<circle cx="422.86" cy="37.36" r="1.5"/>
<circle cx="423.25" cy="51.09" r="1.5"/>
<circle cx="424.28" cy="182.5" r="1.5"/>
<circle cx="423.73" cy="73.04" r="1.5"/>
<circle cx="424.38" cy="41.05" r="1.5"/>
<circle cx="422.48" cy="192.8" r="1.5"/>
<circle cx="424.7" cy="79.85" r="1.5"/>
<circle cx="424.96" cy="80.68" r="1.5"/>
<circle cx="423.26" cy="43.26" r="1.5"/>
<circle cx="423" cy="29.59" r="1.5"/>
<circle cx="423.59" cy="67.45" r="1.5"/>
<circle cx="423.77" cy="49.46" r="1.5"/>
<circle cx="421.24" cy="44.36" r="1.5"/>
<circle cx="423.68" cy="44.81" r="1.5"/>
<circle cx="423.31" cy="145.87" r="1.5"/>
<circle cx="421.57" cy="73.57" r="1.5"/>
<circle cx="424.62" cy="158.16" r="1.5"/>
<circle cx="423.29" cy="68.43" r="1.5"/>
<circle cx="424.48" cy="207.6" r="1.5"/>
<circle cx="422.53" cy="76.6" r="1.5"/>
<circle cx="423.71" cy="75.28" r="1.5"/>
<circle cx="422.58" cy="78.16" r="1.5"/>
<circle cx="421.29" cy="62.39" r="1.5"/>
<circle cx="424.17" cy="43.89" r="1.5"/>
<circle cx="423.39" cy="38.63" r="1.5"/>
<circle cx="423.43" cy="35.33" r="1.5"/>
<circle cx="424.06" cy="46.95" r="1.5"/>
<circle cx="425.74" cy="81.42" r="1.5"/>
<circle cx="425.74" cy="87.59" r="1.5"/>
<circle cx="423.51" cy="48.98" r="1.5"/>
<circle cx="421.78" cy="54.64" r="1.5"/>
<circle cx="425.81" cy="71.62" r="1.5"/>
<circle cx="421.69" cy="59.62" r="1.5"/>
<circle cx="421.4" cy="66.69" r="1.5"/>
<circle cx="423.14" cy="76.04" r="1.5"/>
<line x1="453.04" y1="22.23" x2="453.04" y2="67.3"/>
<line x1="453.04" y1="115.1" x2="453.04" y2="179.65"/>
<circle cx="451.45" cy="120.31" r="1.5"/>
<circle cx="453.84" cy="91.51" r="1.5"/>
<circle cx="452.95" cy="157.65" r="1.5"/>
<circle cx="451.23" cy="74.69" r="1.5"/>
<circle cx="453.24" cy="69.28" r="1.5"/>
<circle cx="450.75" cy="93.76" r="1.5"/>
<circle cx="453.99" cy="75.33" r="1.5"/>
<circle cx="453.99" cy="70.13" r="1.5"/>
<circle cx="451.8" cy="110.89" r="1.5"/>
<circle cx="455.35" cy="102.39" r="1.5"/>
<circle cx="455.3" cy="106.73" r="1.5"/>
<circle cx="454.1" cy="129.42" r="1.5"/>
<circle cx="453.41" cy="42.83" r="1.5"/>
<circle cx="452.92" cy="125.32" r="1.5"/>
<circle cx="452.88" cy="38.09" r="1.5"/>
<circle cx="454.52" cy="57.32" r="1.5"/>
<circle cx="454.33" cy="49.95" r="1.5"/>
<circle cx="450.67" cy="82.68" r="1.5"/>
<circle cx="452.36" cy="95.08" r="1.5"/>
<circle cx="455.04" cy="179.65" r="1.5"/>
<circle cx="453.82" cy="86.56" r="1.5"/>
<circle cx="451.3" cy="84.26" r="1.5"/>
<circle cx="454.24" cy="73.02" r="1.5"/>
<circle cx="453.58" cy="96.58" r="1.5"/>
<circle cx="453.88" cy="45.22" r="1.5"/>
<circle cx="453.4" cy="134.51" r="1.5"/>
<circle cx="453.01" cy="84.79" r="1.5"/>
<circle cx="454.39" cy="39.88" r="1.5"/>
<circle cx="454.29" cy="108.64" r="1.5"/>
<circle cx="453.66" cy="103.88" r="1.5"/>
<circle cx="452.52" cy="128.28" r="1.5"/>
<circle cx="454.16" cy="144.9" r="1.5"/>
<circle cx="453.66" cy="74.22" r="1.5"/>
<circle cx="452.02" cy="58.65" r="1.5"/>
<circle cx="451.66" cy="95.72" r="1.5"/>
<circle cx="452.52" cy="154.06" r="1.5"/>
<circle cx="451.23" cy="80.48" r="1.5"/>
<circle cx="453.65" cy="43.67" r="1.5"/>
<circle cx="454.94" cy="59.08" r="1.5"/>
<circle cx="451.46" cy="64.88" r="1.5"/>
<circle cx="454.17" cy="119.15" r="1.5"/>
<circle cx="450.7" cy="139.08" r="1.5"/>
<circle cx="454.34" cy="121.77" r="1.5"/>
<circle cx="455.23" cy="88.43" r="1.5"/>
<circle cx="454.77" cy="94.26" r="1.5"/>
<circle cx="452.15" cy="146.4" r="1.5"/>
<circle cx="452.66" cy="133.41" r="1.5"/>
<circle cx="451.25" cy="98.52" r="1.5"/>
<circle cx="452.51" cy="76.97" r="1.5"/>
<circle cx="452.72" cy="101.55" r="1.5"/>
<circle cx="452.71" cy="112.16" r="1.5"/>
<circle cx="454.21" cy="139.97" r="1.5"/>
<circle cx="452.99" cy="46.33" r="1.5"/>
<circle cx="454.26" cy="52.23" r="1.5"/>
<circle cx="453.46" cy="142.2" r="1.5"/>
<circle cx="452.43" cy="109.89" r="1.5"/>
<circle cx="452.19" cy="111.32" r="1.5"/>
<circle cx="453.32" cy="112.77" r="1.5"/>
<circle cx="455.39" cy="97.27" r="1.5"/>
<circle cx="451.31" cy="92.26" r="1.5"/>
<circle cx="454.22" cy="51.43" r="1.5"/>
<circle cx="452.04" cy="201" r="1.5"/>
<circle cx="452.33" cy="105.91" r="1.5"/>
<circle cx="455.25" cy="163.04" r="1.5"/>
<circle cx="453.59" cy="55.57" r="1.5"/>
<circle cx="455.23" cy="61.12" r="1.5"/>
<circle cx="451.65" cy="67.67" r="1.5"/>
<circle cx="454.7" cy="113.46" r="1.5"/>
<circle cx="452.94" cy="100.1" r="1.5"/>
<circle cx="454.34" cy="85.48" r="1.5"/>
<circle cx="452.51" cy="32.56" r="1.5"/>
<circle cx="451.4" cy="79.48" r="1.5"/>
<circle cx="453.91" cy="72.43" r="1.5"/>
<circle cx="454.19" cy="48.02" r="1.5"/>
<circle cx="451.5" cy="83.19" r="1.5"/>
<circle cx="454" cy="38.99" r="1.5"/>
<circle cx="453.06" cy="103.42" r="1.5"/>
<circle cx="452.17" cy="105.32" r="1.5"/>
<circle cx="455.15" cy="62.82" r="1.5"/>
<circle cx="454.24" cy="37.19" r="1.5"/>
<circle cx="454.97" cy="67.19" r="1.5"/>
<circle cx="452.74" cy="97.98" r="1.5"/>
<circle cx="452.07" cy="114.57" r="1.5"/>
<circle cx="454.33" cy="75.7" r="1.5"/>
<circle cx="454.95" cy="53.86" r="1.5"/>
<circle cx="451.05" cy="70.93" r="1.5"/>
<circle cx="455.32" cy="48.85" r="1.5"/>
<circle cx="450.98" cy="123.92" r="1.5"/>
<circle cx="453.37" cy="99.51" r="1.5"/>
<circle cx="451.35" cy="135.8" r="1.5"/>
<circle cx="455.23" cy="70.6" r="1.5"/>
<circle cx="450.91" cy="71.61" r="1.5"/>
<circle cx="454.18" cy="78.57" r="1.5"/>
<circle cx="453.4" cy="81.21" r="1.5"/>
<circle cx="454.86" cy="56.69" r="1.5"/>
<circle cx="450.98" cy="131.78" r="1.5"/>
<circle cx="455.35" cy="101.22" r="1.5"/>
<circle cx="455.01" cy="60.13" r="1.5"/>
<circle cx="451.32" cy="69.05" r="1.5"/>
<circle cx="454.7" cy="109.16" r="1.5"/>
<circle cx="452.02" cy="90.02" r="1.5"/>
<circle cx="452.04" cy="122.83" r="1.5"/>
<circle cx="453.6" cy="117.35" r="1.5"/>
<circle cx="451.79" cy="35.16" r="1.5"/>
<circle cx="453.64" cy="140.92" r="1.5"/>
<circle cx="454.04" cy="62.22" r="1.5"/>
<circle cx="454.49" cy="41.44" r="1.5"/>
<circle cx="454.3" cy="104.74" r="1.5"/>
<circle cx="453.84" cy="68.45" r="1.5"/>
<circle cx="451.36" cy="55.07" r="1.5"/>
<circle cx="452.06" cy="71.96" r="1.5"/>
<circle cx="455.39" cy="116.82" r="1.5"/>
<circle cx="453.98" cy="169.68" r="1.5"/>
<circle cx="451.33" cy="160.21" r="1.5"/>
<circle cx="453.69" cy="174.15" r="1.5"/>
<circle cx="455.39" cy="87.43" r="1.5"/>
<circle cx="454" cy="147.75" r="1.5"/>
<circle cx="453.35" cy="81.72" r="1.5"/>
<circle cx="455.33" cy="78.08" r="1.5"/>
<circle cx="453.5" cy="127.22" r="1.5"/>
<circle cx="452.83" cy="65.36" r="1.5"/>
<circle cx="453.1" cy="50.44" r="1.5"/>
<circle cx="452" cy="114.87" r="1.5"/>
<circle cx="453.75" cy="92.96" r="1.5"/>
<circle cx="454.97" cy="44.12" r="1.5"/>
<circle cx="452.49" cy="143.86" r="1.5"/>
<circle cx="453.16" cy="87.1" r="1.5"/>
<circle cx="452.86" cy="85.8" r="1.5"/>
<circle cx="454.65" cy="46.85" r="1.5"/>
<circle cx="453.54" cy="204.7" r="1.5"/>
<circle cx="453.95" cy="53.16" r="1.5"/>
<circle cx="452.56" cy="130.92" r="1.5"/>
<circle cx="453.73" cy="165.49" r="1.5"/>
<circle cx="453.87" cy="107.88" r="1.5"/>
<circle cx="451.71" cy="78.93" r="1.5"/>
<circle cx="452.24" cy="83.93" r="1.5"/>
<circle cx="453.32" cy="137.63" r="1.5"/>
<circle cx="455.18" cy="90.33" r="1.5"/>
<circle cx="452.48" cy="76.46" r="1.5"/>
<circle cx="455.3" cy="89.24" r="1.5"/>
<circle cx="451.16" cy="63.76" r="1.5"/>
<circle cx="453.01" cy="150.34" r="1.5"/>
<circle cx="455.43" cy="40.72" r="1.5"/>
<circle cx="451.02" cy="80.02" r="1.5"/>
<circle cx="454.13" cy="73.85" r="1.5"/>
<circle cx="453.37" cy="22.23" r="1.5"/>
<circle cx="454.63" cy="77.38" r="1.5"/>
<circle cx="453.57" cy="175.67" r="1.5"/>
<circle cx="454.82" cy="66.41" r="1.5"/>
<circle cx="452.78" cy="82.29" r="1.5"/>
</g>
<g>
<rect x="52.04" y="273" width="22.2" height="17.2" class="bx" fill-opacity="0.83"/>
<line x1="52.04" y1="281.5" x2="74.24" y2="281.5" class="md"/>
<line x1="63.14" y1="279.2" x2="63.14" y2="284.2" class="eb"/>
<circle cx="63.14" cy="281.7" r="2.65" class="mn"/>
<rect x="81.61" y="252.5" width="22.2" height="34" class="bx" fill-opacity="0.83"/>
<line x1="81.61" y1="273.2" x2="103.81" y2="273.2" class="md"/>
<line x1="92.71" y1="264.5" x2="92.71" y2="271.5" class="eb"/>
<circle cx="92.71" cy="267.9" r="2.65" class="mn"/>
<rect x="111.18" y="233" width="22.2" height="31.4" class="bx" fill-opacity="0.83"/>
<line x1="111.18" y1="249.5" x2="133.38" y2="249.5" class="md"/>
<line x1="122.28" y1="244.5" x2="122.28" y2="251" class="eb"/>
<circle cx="122.28" cy="247.7" r="2.65" class="mn"/>
<rect x="140.75" y="206.8" width="22.2" height="34.2" class="bx" fill-opacity="0.83"/>
<line x1="140.75" y1="224" x2="162.95" y2="224" class="md"/>
<line x1="151.85" y1="219" x2="151.85" y2="225" class="eb"/>
<circle cx="151.85" cy="222" r="2.65" class="mn"/>
<rect x="170.32" y="182.6" width="22.2" height="48.4" class="bx" fill-opacity="0.83"/>
<line x1="170.32" y1="211.7" x2="192.52" y2="211.7" class="md"/>
<line x1="181.42" y1="200.5" x2="181.42" y2="209.5" class="eb"/>
<circle cx="181.42" cy="205" r="2.65" class="mn"/>
<rect x="199.89" y="107.3" width="22.2" height="74.2" class="bx" fill-opacity="0.83"/>
<line x1="199.89" y1="156" x2="222.09" y2="156" class="md"/>
<line x1="210.99" y1="138" x2="210.99" y2="151.8" class="eb"/>
<circle cx="210.99" cy="145.1" r="2.65" class="mn"/>
<rect x="294.14" y="21.6" width="22.2" height="14.9" class="bx" fill-opacity="0.93"/>
<line x1="294.14" y1="27.2" x2="316.34" y2="27.2" class="md"/>
<line x1="305.24" y1="29.8" x2="305.24" y2="32.8" class="eb"/>
<circle cx="305.24" cy="31.1" r="2.65" class="mn"/>
<rect x="323.7" y="39.4" width="22.2" height="22.8" class="bx" fill-opacity="0.87"/>
<line x1="323.7" y1="49" x2="345.9" y2="49" class="md"/>
<line x1="334.8" y1="50.3" x2="334.8" y2="53.9" class="eb"/>
<circle cx="334.8" cy="52.2" r="2.65" class="mn"/>
<rect x="353.26" y="43.6" width="22.2" height="27.7" class="bx" fill-opacity="0.83"/>
<line x1="353.26" y1="53.8" x2="375.46" y2="53.8" class="md"/>
<line x1="364.36" y1="56.5" x2="364.36" y2="61" class="eb"/>
<circle cx="364.36" cy="58.9" r="2.65" class="mn"/>
<rect x="382.82" y="42.8" width="22.2" height="31.4" class="bx" fill-opacity="0.83"/>
<line x1="382.82" y1="55.1" x2="405.02" y2="55.1" class="md"/>
<line x1="393.92" y1="57.5" x2="393.92" y2="62.5" class="eb"/>
<circle cx="393.92" cy="60.2" r="2.65" class="mn"/>
<rect x="412.38" y="43.1" width="22.2" height="45.8" class="bx" fill-opacity="0.83"/>
<line x1="412.38" y1="60.4" x2="434.58" y2="60.4" class="md"/>
<line x1="423.48" y1="68.6" x2="423.48" y2="81" class="eb"/>
<circle cx="423.48" cy="75.1" r="2.65" class="mn"/>
<rect x="441.94" y="67.3" width="22.2" height="47.8" class="bx" fill-opacity="0.83"/>
<line x1="441.94" y1="87.2" x2="464.14" y2="87.2" class="md"/>
<line x1="453.04" y1="87.5" x2="453.04" y2="99.5" class="eb"/>
<circle cx="453.04" cy="93.8" r="2.65" class="mn"/>
</g>
<g stroke="#111" stroke-width="1">
<line x1="45.5" y1="1" x2="45.5" y2="323.5" />
<line x1="45.5" y1="323.5" x2="228.75" y2="323.5" />
<line x1="287.5" y1="1" x2="287.5" y2="323.5" />
<line x1="287.5" y1="323.5" x2="470.75" y2="323.5" />
<line x1="42.7" y1="68.5" x2="45.5" y2="68.5" />
<line x1="42.7" y1="161.6" x2="45.5" y2="161.6" />
<line x1="42.7" y1="254.6" x2="45.5" y2="254.6" />
<line x1="284.7" y1="11" x2="287.5" y2="11" />
<line x1="284.7" y1="76.47" x2="287.5" y2="76.47" />
<line x1="284.7" y1="141.95" x2="287.5" y2="141.95" />
<line x1="284.7" y1="207.42" x2="287.5" y2="207.42" />
<line x1="284.7" y1="272.9" x2="287.5" y2="272.9" />
<line x1="63.5" y1="323.5" x2="63.5" y2="326.5" />
<line x1="92.5" y1="323.5" x2="92.5" y2="326.5" />
<line x1="122.5" y1="323.5" x2="122.5" y2="326.5" />
<line x1="151.5" y1="323.5" x2="151.5" y2="326.5" />
<line x1="181.5" y1="323.5" x2="181.5" y2="326.5" />
<line x1="210.5" y1="323.5" x2="210.5" y2="326.5" />
<line x1="305.5" y1="323.5" x2="305.5" y2="326.5" />
<line x1="334.5" y1="323.5" x2="334.5" y2="326.5" />
<line x1="364.5" y1="323.5" x2="364.5" y2="326.5" />
<line x1="393.5" y1="323.5" x2="393.5" y2="326.5" />
<line x1="423.5" y1="323.5" x2="423.5" y2="326.5" />
<line x1="453.5" y1="323.5" x2="453.5" y2="326.5" />
</g>
<text x="40.9" y="72.9" text-anchor="end" class="t">0.075</text>
<text x="40.9" y="166" text-anchor="end" class="t">0.050</text>
<text x="40.9" y="259" text-anchor="end" class="t">0.025</text>
<text x="282.9" y="15.4" text-anchor="end" class="t">1.00</text>
<text x="282.9" y="80.88" text-anchor="end" class="t">0.75</text>
<text x="282.9" y="146.35" text-anchor="end" class="t">0.50</text>
<text x="282.9" y="211.82" text-anchor="end" class="t">0.25</text>
<text x="282.9" y="277.3" text-anchor="end" class="t">0.00</text>
<text x="63.14" y="337" text-anchor="middle" class="t">Mono</text>
<text x="92.71" y="337" text-anchor="middle" class="t">Bcell</text>
<text x="122.28" y="337" text-anchor="middle" class="t">NK</text>
<text x="151.85" y="337" text-anchor="middle" class="t">CD8T</text>
<text x="181.42" y="337" text-anchor="middle" class="t">CD4T</text>
<text x="210.99" y="337" text-anchor="middle" class="t">Gran</text>
<text x="305.24" y="337" text-anchor="middle" class="t">Gran</text>
<text x="334.8" y="337" text-anchor="middle" class="t">Mono</text>
<text x="364.36" y="337" text-anchor="middle" class="t">NK</text>
<text x="393.92" y="337" text-anchor="middle" class="t">CD4T</text>
<text x="423.48" y="337" text-anchor="middle" class="t">Bcell</text>
<text x="453.04" y="337" text-anchor="middle" class="t">CD8T</text>
<text x="10.2" y="162" text-anchor="middle" transform="rotate(-90 10.2 162)" class="at">RMSE</text>
<text x="252.3" y="161.5" text-anchor="middle" transform="rotate(-90 252.3 161.5)" class="at">Pearson's r</text>
<text x="1.9" y="16.4" class="lab">A</text>
<text x="239.5" y="16.5" class="lab">B</text>
</svg>
</body></html>
